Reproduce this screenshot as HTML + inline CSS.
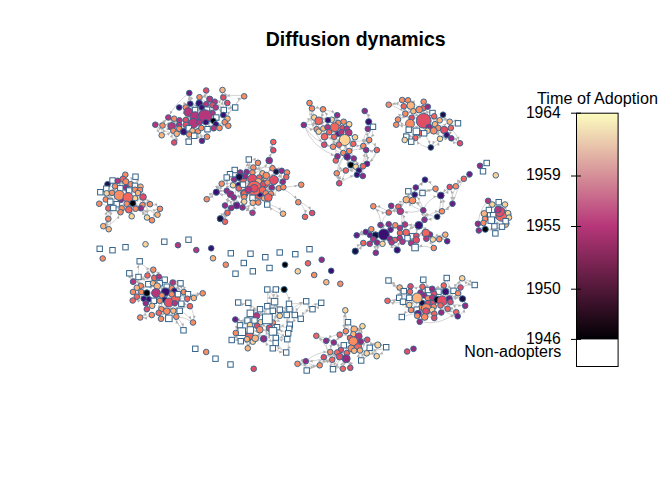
<!DOCTYPE html>
<html><head><meta charset="utf-8"><title>Diffusion dynamics</title>
<style>
html,body{margin:0;padding:0;background:#fff;}
body{width:672px;height:480px;overflow:hidden;}
svg{display:block;}
text{font-family:"Liberation Sans",sans-serif;fill:#000;}
.e{fill:none;stroke:#c2c2c2;stroke-width:0.7;}
.ah{fill:#aeaeae;stroke:none;}
.c{stroke:#36648b;stroke-width:0.95;}
.s{fill:#fff;stroke:#36648b;stroke-width:1;}
</style></head><body>
<svg width="672" height="480" viewBox="0 0 672 480">
<defs>
<linearGradient id="g" x1="0" y1="1" x2="0" y2="0">
<stop offset="0" stop-color="#000004"/><stop offset="0.5" stop-color="#b63679"/><stop offset="1" stop-color="#fcfdbf"/>
</linearGradient>
</defs>
<rect x="0" y="0" width="672" height="480" fill="#fff"/>
<text x="355.7" y="45.8" text-anchor="middle" font-size="19.5" font-weight="bold">Diffusion dynamics</text>

<g id="edges">
<path class="e" d="M190.3 103.7Q191.5 98.2 189.3 93M189.3 93Q189 100.6 185.8 107.5M195 116.7Q189.3 105.5 189.3 93M206.2 90.5Q205.8 95.7 209.7 99.2M223.3 97.5Q221.7 93.9 222.5 90M227.3 103Q226.8 95.8 222.5 90M235.2 107.5Q237 99.8 244.2 96.3M244.2 96.3Q233.6 93.8 223.3 97.5M244.2 96.3Q230.5 106.3 224.7 122.2M199.2 103.3Q197.8 100.2 199.5 97.2M199.5 97.2Q204.9 96.7 209.7 99.2M209.7 99.2Q208.5 102.1 206.2 104.2M213.7 128.3Q218.3 112.8 209.7 99.2M214.7 101.7Q219.9 101.5 223.3 97.5M223.8 110Q221.9 103.8 223.3 97.5M223.3 97.5Q222.1 93.8 222.5 90M214.7 101.7Q212.8 102.8 212.5 105M214.7 101.7Q213.9 103.5 212.5 105M223.8 110Q226.4 106.9 227.3 103M227.3 103Q209 110.2 190.3 103.7M235.2 107.5Q230.4 106.7 227.3 103M235.2 107.5Q228.6 111.2 227.5 118.7M199.5 97.2Q214.9 110.6 235.2 107.5M190.3 103.7Q193.3 106.4 195 110M199.2 103.3Q199.8 105.8 201.7 107.5M207 109.7Q205.7 107.1 206.2 104.2M206.2 104.2Q202.7 103.2 199.2 103.3M206.2 104.2Q209.2 105.4 212.5 105M212.5 113Q211.2 109 212.5 105M185.8 107.5Q182.5 106.4 179.2 107.5M179.2 107.5Q184 103.5 190.3 103.7M188.3 112Q186.4 110.1 185.8 107.5M185.8 120Q183.8 113.8 185.8 107.5M195 110Q196.6 113.3 195 116.7M202.5 113.3Q199.2 110.7 195 110M195 110Q198.3 107.4 199.2 103.3M202.5 113.3Q203.3 110.2 201.7 107.5M201.7 107.5Q204.6 107.9 207 109.7M212.5 105Q213.8 106.7 215.8 107.5M215.8 107.5Q216.2 104.4 214.7 101.7M223.3 115Q224.2 112.6 223.8 110M223.8 110Q219.4 110 215.8 107.5M188.3 112Q191.3 109.7 195 110M193.3 123.3Q188.5 118.7 188.3 112M195 116.7Q198.3 114.1 202.5 113.3M202.5 113.3Q205.6 112.5 207 109.7M212.5 113Q209.4 111.9 207 109.7M216.3 117.5Q220.1 117 223.3 115M223.3 115Q223 118.8 224.7 122.2M195 116.7Q194.2 113.3 195 110M199.5 122.5Q200.8 118.2 205 116.7M216.3 117.5Q214.4 118.8 213.3 120.8M216.3 117.5Q215.3 119.6 213.3 120.8M227.5 118.7Q225.5 120 224.7 122.2M223.3 115Q225.8 116.4 227.5 118.7M227.5 118.7Q225.8 116.4 223.3 115M219.5 128Q225.3 124.9 227.5 118.7M174.2 118.7Q171.3 117.6 168.3 117.5M189.3 93Q175.7 102.6 168.3 117.5M179.5 120.3Q177.1 118.8 174.2 118.7M179.2 128.8Q174.4 124.9 174.2 118.7M179.5 120.3Q182.7 120.7 185.8 120M185.8 120Q190.3 120 193.3 123.3M185.8 120Q186.1 115.7 188.3 112M193.3 123.3Q196.3 122.1 199.5 122.5M195 116.7Q195.7 120.4 193.3 123.3M193.3 123.3Q192.1 126.7 188.8 128.3M199.5 122.5Q199.2 125.7 201.3 128M205 116.7Q206 119.3 205.8 122.2M205.8 122.2Q209.9 123.3 213.3 120.8M213.3 120.8Q215.1 124.5 213.7 128.3M213.3 120.8Q214.9 122.3 215.8 124.2M207.5 129.2Q211.2 125.8 215.8 124.2M215.8 124.2Q213.8 125.7 213.7 128.3M223.3 115Q224.7 118.4 224.7 122.2M224.7 122.2Q226.6 120.8 227.5 118.7M202 140.8Q210.2 127.6 224.7 122.2M228.3 125.8Q225.7 124.8 224.7 122.2M228.3 125.8Q223.5 125.1 219.5 128M214.7 101.7Q228.7 109.7 228.3 125.8M155.3 124.7Q159 124.2 162.5 125.5M155.3 124.7Q157.6 130.5 161.7 135.3M155.3 124.7Q163.1 123.3 168.3 117.5M176.7 133.8Q164.4 132.9 155.3 124.7M171.7 126.3Q167.2 124.4 162.5 125.5M162.5 125.5Q167.5 129.1 173.3 130.8M188.8 128.3Q176.3 120.8 162.5 125.5M179.2 125Q175.6 126.7 171.7 126.3M174.2 118.7Q171.7 122.1 171.7 126.3M171.7 126.3Q174.5 123 174.2 118.7M205 116.7Q186.1 113.7 171.7 126.3M179.5 120.3Q180.2 122.7 179.2 125M183.7 131.7Q179.8 129.4 179.2 125M179.2 125Q180.1 122.7 179.5 120.3M189.2 134.5Q186.1 127.7 179.2 125M179.2 128.8Q179.8 126.9 179.2 125M185.8 124.7Q182.9 127.4 179.2 128.8M179.2 128.8Q179.8 126.9 179.2 125M185.8 120Q186.4 122.3 185.8 124.7M185.8 124.7Q186.8 122.3 185.8 120M173.3 130.8Q174.5 132.8 176.7 133.8M173.3 130.8Q176 129 179.2 128.8M183.7 131.7Q185.9 129.5 188.8 128.3M183.7 131.7Q186.3 128.6 185.8 124.7M188.8 128.3Q192.2 126.8 193.3 123.3M185.8 120Q185.4 124.9 188.8 128.3M188.8 128.3Q191.1 129 192.5 130.8M192.5 130.8Q195.1 132.4 198 131.3M201.3 128Q199 129 198 131.3M199.5 122.5Q200.8 127.3 198 131.3M198 131.3Q195.1 132.2 192.5 130.8M201.3 128Q199.3 125.6 199.5 122.5M201.3 128Q198 124.6 193.3 123.3M201.3 128Q204.6 127.6 207.5 129.2M207.5 129.2Q205.6 125.9 205.8 122.2M213.7 128.3Q210.8 130.1 207.5 129.2M219.5 128Q217 126.7 215.8 124.2M206.2 104.2Q209.1 118.2 219.5 128M161.7 135.3Q163.9 130.6 162.5 125.5M161.7 135.3Q168 134.4 173.3 130.8M161.7 135.3Q160.1 124.6 168.3 117.5M179.2 128.8Q178.9 131.8 176.7 133.8M176.7 133.8Q178.4 131.6 179.2 128.8M189.2 134.5Q190.1 132 192.5 130.8M189.2 134.5Q190.2 132.1 192.5 130.8M192.5 130.8Q194.4 133 194.2 135.8M207.5 129.2Q205.9 132.8 207 136.7M207 136.7Q201.2 136.2 198 131.3M174.2 142.5Q176.1 138.4 176.7 133.8M174.2 142.5Q171.3 136.8 173.3 130.8M174.2 142.5Q176.9 138.6 176.7 133.8M174.2 142.5Q177.7 128.5 168.3 117.5M188.7 141.7Q187.2 138 189.2 134.5M188.7 141.7Q188.6 135.5 183.7 131.7M201.7 107.5Q189.7 122.5 188.7 141.7M207 136.7Q203.6 137.7 202 140.8M202 140.8Q198.2 136.8 198 131.3M312 108.5Q312.1 105.2 309.5 103M314.2 117.5Q311.4 113.4 312 108.5M312 108.5Q317.6 107.4 323 109.3M328 120.2Q326.7 114.2 323 109.3M323 109.3Q322.2 115.6 318.7 120.8M323 109.3Q319.7 119 323.3 128.5M318.7 120.8Q317.2 118.1 314.2 117.5M316.7 129.2Q313.4 123.8 314.2 117.5M314.2 117.5Q316.6 123.1 316.7 129.2M331.7 119.7Q335 118.1 337.2 115.2M338.3 123Q336.5 119.3 337.2 115.2M337.2 115.2Q336.1 119.3 338.3 123M331.7 119.7Q335.4 120.6 338.3 123M334.7 127.2Q333.9 123.1 331.7 119.7M331.7 119.7Q335.4 120.5 338.3 123M355 137.3Q339.5 133.5 331.7 119.7M318.7 120.8Q315.7 124.5 316.7 129.2M318.7 120.8Q323.5 122.4 328 120.2M318.7 120.8Q316.1 119.6 314.2 117.5M349.2 124.2Q334.7 115.3 318.7 120.8M331.7 119.7Q329.9 120.3 328 120.2M328 120.2Q326.8 124.9 323.3 128.5M334.7 127.2Q336.1 124.8 338.3 123M338.3 123Q341.3 123.4 343.7 121.7M346.7 128.8Q346.1 124.9 343.7 121.7M343.7 121.7Q346 124.9 346.7 128.8M349.2 124.2Q348.4 126.8 346.7 128.8M349.2 124.2Q349.9 128.5 348.8 132.7M303.8 125Q307.7 119.5 314.2 117.5M303.8 125Q309.4 129.7 316.7 129.2M303.8 125Q312.1 125.9 318.7 120.8M303.8 125Q314.5 115.4 328 120.2M318.7 131.7Q317.3 130.7 316.7 129.2M316.7 129.2Q317.1 130.9 318.7 131.7M316.7 129.2Q333.2 128.1 344.7 140M318.7 131.7Q320.2 129 323.3 128.5M324.5 136.7Q322.3 133.4 318.7 131.7M318.7 131.7Q318.1 130.1 316.7 129.2M323.3 128.5Q325.2 127.1 327.5 127.2M323.3 128.5Q327 129.2 329.2 132.2M327.5 127.2Q327.3 130 329.2 132.2M327.5 127.2Q331.1 125.6 334.7 127.2M342.5 128Q341.6 130 341.3 132.2M342.5 128Q341.2 131.5 338.3 133.8M346.7 128.8Q344.7 127.7 342.5 128M329.2 132.2Q330.7 128.4 334.7 127.2M334.7 127.2Q337.4 130 338.3 133.8M334.7 127.2Q330.9 128.5 329.2 132.2M334.2 136.8Q331 135.2 329.2 132.2M329.2 132.2Q335.2 133.3 341.3 132.2M329.2 132.2Q332.6 133.5 334.2 136.8M338.3 133.8Q336.7 136 334.2 136.8M324.5 136.7Q325.9 133.5 329.2 132.2M334.2 136.8Q329.4 134.5 324.5 136.7M324.5 136.7Q325.2 132.4 323.3 128.5M341.3 132.2Q340.1 133.4 338.3 133.8M334.2 136.8Q336.6 132.8 341.3 132.2M341.3 132.2Q343.7 130 346.7 128.8M341.3 132.2Q345.2 130.9 348.8 132.7M342.5 128Q344.6 131.8 348.8 132.7M348.8 132.7Q345.1 131.1 342.5 128M353.3 143.8Q352.8 140.2 355 137.3M355 137.3Q349.3 134.6 346.7 128.8M344.7 140Q341 141.4 338.8 144.7M353.3 143.8Q348.3 143.4 344.7 140M353.3 143.8Q353.8 137.2 348.8 132.7M338.8 144.7Q337.8 140 334.2 136.8M333 146.7Q335.7 144.9 338.8 144.7M333 146.7Q334.6 141.9 334.2 136.8M333 146.7Q335.4 144.2 338.8 144.7M324.2 144.7Q325.1 140.7 324.5 136.7M324.2 144.7Q325.5 140.7 324.5 136.7M343.3 153Q346 151.3 349.2 151M344.7 140Q345.3 146.2 349.2 151M349.2 151Q346 151.2 343.3 153M338.8 144.7Q340.2 149.3 343.3 153M343.3 153Q345.9 146.7 344.7 140M343.3 153Q340.7 155.2 337.5 156.3M337.5 156.3Q337.1 158.6 335.8 160.5M335.8 160.5Q337.4 142.4 327.5 127.2M343.3 153Q340 154 337.5 156.3M337.5 156.3Q339.7 153.5 343.3 153M353.8 158.5Q350.2 158.7 347.2 156.8M353.8 158.5Q347.3 158.2 343.3 153M353.8 158.5Q350.7 156.8 347.2 156.8M353.8 158.5Q344.2 140.8 324.5 136.7M343.3 153Q346.1 154.1 347.2 156.8M338.8 144.7Q340.9 152.2 347.2 156.8M353.8 158.5Q353.9 162.5 350.8 165M350.8 165Q347.5 161.6 347.2 156.8M324.2 144.7Q341.3 149.9 350.8 165M355.8 166.7Q353.5 165.2 350.8 165M355.8 166.7Q351.7 170.9 345.8 170.5M345.8 170.5Q348.9 168.2 350.8 165M335.8 160.5Q338.6 167.8 345.8 170.5M345.8 170.5Q351.5 170.2 355.8 166.7M345.8 170.5Q340.8 170.6 336.7 173.3M336.7 173.3Q339.7 177.9 339.2 183.3M336.7 173.3Q338.3 159.6 349.2 151M358.8 170.5Q356.9 169 355.8 166.7M358.8 170.5Q358.1 163.8 353.8 158.5M358.8 170.5Q348.9 158.7 353.3 143.8M358.8 170.5Q358.5 172.8 357 174.7M357 174.7Q346.7 164.9 349.2 151M339.2 183.3Q339.5 177.9 336.7 173.3M345.8 170.5Q344.1 177.8 339.2 183.3M339.2 183.3Q347.3 177.3 357 174.7M349.2 151Q334.5 164.2 339.2 183.3M368.7 121.8Q369 115.5 364.7 111M373 126.8Q370.8 117.9 364.7 111M368.7 121.8Q369.9 125.1 373 126.8M368.7 121.8Q371.7 123.6 373 126.8M367.8 128.8Q370 126.8 373 126.8M363.3 146Q366.4 135.5 373 126.8M373 126.8Q373.9 134.2 369.2 140M367.8 128.8Q367 134.6 369.2 140M367.8 128.8Q363 136.7 363.3 146M369.2 140Q367.3 144 363.3 146M369.2 140Q365 141.8 363.3 146M363.3 146Q364 148.5 366.2 150M366.2 150Q371.5 151 376.8 150M376.8 150Q371.5 151.3 366.2 150M369.2 140Q374.7 143.7 376.8 150M366.2 150Q368.1 156.8 367 163.8M376.8 150Q374 158.4 367 163.8M367 163.8Q364.4 164.1 363 166.3M363 166.3Q364.4 164.2 367 163.8M363 166.3Q367.1 158.7 366.2 150M376.8 150Q374.7 162.2 363 166.3M363 166.3Q361.3 171.1 362.8 176M362.8 176Q361.5 162.6 366.2 150M388.7 104.7Q396.2 104.6 402.2 100M403.8 106.3Q396.5 103.2 388.7 104.7M388.7 104.7Q398.3 106.8 405.3 113.7M408 100.3Q405 101.4 402.2 100M402.2 100Q404.4 102.8 403.8 106.3M408 100.3Q408.9 103.2 410.8 105.5M419.2 109.7Q416 102.1 408 100.3M427.8 106.7Q425.1 104.7 423.7 101.7M423.7 101.7Q414.6 107.5 411.7 117.8M403.8 106.3Q407.5 107.3 410.8 105.5M405.3 113.7Q403.8 110.2 403.8 106.3M427.5 130.8Q411.5 122.6 403.8 106.3M432.5 113Q427.1 112 423 108.3M423 108.3Q420.9 108.6 419.2 109.7M410.8 105.5Q413.2 107.9 413.3 111.3M405.3 113.7Q409.6 110.6 410.8 105.5M410.8 105.5Q410.2 102.5 408 100.3M423 108.3Q416.1 110.3 410.8 105.5M423 108.3Q425.6 107.9 427.8 106.7M427.8 106.7Q424.1 109.8 419.2 109.7M427.8 106.7Q425.2 107 423 108.3M405.3 113.7Q407.7 117 411.7 117.8M413.3 111.3Q416.5 111.4 419.2 109.7M413.3 111.3Q414.1 115 411.7 117.8M419.2 109.7Q416.8 115 411.7 117.8M432.5 113Q425.3 113.6 419.2 109.7M419.2 109.7Q420.9 108.6 423 108.3M432.5 113Q432.7 115 434.2 116.3M432.5 113Q432.8 114.9 434.2 116.3M439.7 120.3Q442.7 118.3 443 114.7M443 114.7Q445.1 119.3 449.7 121.7M434.2 116.3Q436.2 120.1 435 124.2M423.7 120.8Q428.5 117.5 434.2 116.3M434.2 116.3Q433.5 120.4 435 124.2M423.7 120.8Q418.1 117.4 411.7 117.8M405.3 113.7Q402.6 117.7 398 119.5M398 119.5Q400.2 114.8 405.3 113.7M424.2 133.3Q408.4 131.5 398 119.5M398 119.5Q398.1 122.4 396.2 124.7M410 123.7Q403.3 126.6 396.2 124.7M411.7 117.8Q410.1 120.5 410 123.7M416.3 131.3Q414.8 126.1 410 123.7M410 123.7Q409.2 117.9 405.3 113.7M435 124.2Q436.9 121.7 439.7 120.3M438.3 128Q437.5 123.9 439.7 120.3M443 114.7Q445.2 119.2 449.7 121.7M449.7 121.7Q444.9 119.5 439.7 120.3M429.2 127.5Q440.4 128 449.7 121.7M458 123.3Q454.2 120.9 449.7 121.7M450.8 128Q454 125 458 123.3M429.2 127.5Q432.4 126.4 435 124.2M435 124.2Q428.5 125.3 423.7 120.8M435 124.2Q435.5 127.7 433.7 130.8M438.3 128Q436 126.7 435 124.2M438.3 128Q437.2 125.6 435 124.2M429.2 127.5Q425.7 124.8 423.7 120.8M429.2 127.5Q430.7 130.1 433.7 130.8M450.8 128Q449.3 125 449.7 121.7M444.2 130Q441.6 127.9 438.3 128M444.2 130Q438.8 129 433.7 130.8M427.5 130.8Q428 129 429.2 127.5M427.5 130.8Q426.1 132.4 424.2 133.3M429.2 127.5Q431.1 129.6 433.7 130.8M435 124.2Q433.2 127.3 433.7 130.8M410 123.7Q408.7 126.5 408.7 129.7M408.7 129.7Q412.6 129.9 416.3 131.3M420 133.3Q422.1 133.9 424.2 133.3M424.2 133.3Q420.5 131.2 416.3 131.3M416.3 131.3Q421.4 127.1 423.7 120.8M427.5 130.8Q425.5 131.6 424.2 133.3M429.2 127.5Q427.9 131.5 424.2 133.3M424.2 133.3Q422.1 134 420 133.3M406.3 136.7Q405.8 132.6 408.7 129.7M406.3 136.7Q411 136.3 415.3 138M420 133.3Q416.9 134.9 415.3 138M415.3 138Q420.4 136.9 424.2 133.3M415.3 138Q416.5 134.8 416.3 131.3M404.7 140Q404.7 137.9 406.3 136.7M424.2 133.3Q413.3 133.4 404.7 140M415.3 138Q412.4 138.8 411.2 141.7M420 133.3Q417.1 139.1 411.2 141.7M440 138.8Q443.3 135 444.2 130M440 138.8Q437.4 133.7 438.3 128M419.2 109.7Q434.9 120.4 440 138.8M446.7 135Q444.9 132.8 444.2 130M446.7 135Q443.9 137.9 440 138.8M446.7 135Q437.8 129.5 427.5 130.8M451.3 138.3Q448.2 137.7 446.7 135M451.3 138.3Q449.7 132.5 444.2 130M433.7 130.8Q440.3 139.8 451.3 138.3M451.3 138.3Q456.4 139.5 460 143.3M450.8 128Q457.3 134.5 460 143.3M446.7 135Q451.2 142.6 460 143.3M440 138.8Q433.8 141.5 430.8 147.5M424.2 133.3Q428.8 139.8 430.8 147.5M123 179.2Q123.2 176.4 125.3 174.7M125.3 174.7Q126.7 178.1 125.8 181.7M125.3 174.7Q124.2 178.3 125.8 181.7M113.3 208Q114.5 189.6 125.3 174.7M135.5 176.7Q131.4 179.3 130.8 184.2M135.5 176.7Q137.4 181.4 135 185.8M117.8 180.8Q115.2 179.6 112.5 180.5M112.5 180.5Q115.2 179.6 117.8 180.8M115 186.3Q117 183.9 117.8 180.8M117.8 180.8Q121.6 183.2 125.8 181.7M117.8 180.8Q120.3 179.5 123 179.2M135 185.8Q127.3 180.4 117.8 180.8M125.8 181.7Q123.8 181.1 123 179.2M123 179.2Q126 183.1 130.8 184.2M123 179.2Q124.8 180 125.8 181.7M123 179.2Q128.8 183.3 129.2 190.5M125.8 181.7Q128.7 182.1 130.8 184.2M125.8 181.7Q122.3 184.3 120.3 188.3M106.3 188.7Q107.5 186.6 107.5 184.2M112.5 180.5Q110.6 183.2 107.5 184.2M129.2 190.5Q119.8 182.5 107.5 184.2M120.3 188.3Q117.2 188.6 115 186.3M119.2 195.3Q114.9 191.8 115 186.3M115 186.3Q114.3 190 112 192.8M130.8 184.2Q127.5 184.6 125.8 187.5M135 189.7Q135.9 187.8 135 185.8M140.5 186.7Q139.5 188.2 140 190M140.5 186.7Q138 189.3 138 193M140.5 186.7Q131.3 188.6 128 197.5M125.8 187.5Q128 188.4 129.2 190.5M119.2 195.3Q121.2 192.1 120.3 188.3M129.2 190.5Q124.5 190.5 120.3 188.3M106.7 193.3Q105.7 191.1 106.3 188.7M106.3 188.7Q110.2 185.9 115 186.3M128 197.5Q126.9 193.7 129.2 190.5M129.2 190.5Q126.3 196.4 120.8 200M129.2 190.5Q129.2 194.1 128 197.5M135 189.7Q132.2 191 129.2 190.5M135 189.7Q136.1 191.7 138 193M138 193Q138.6 191.2 140 190M140 190Q136.9 188.7 135 185.8M106.7 193.3Q103.8 191.3 100.3 192.2M105.8 199.5Q104.6 194.7 100.3 192.2M106.7 193.3Q109.4 194 112 192.8M106.7 193.3Q109.4 197.1 110.3 201.7M119.2 195.3Q116.1 192.6 112 192.8M120.8 200Q115 198.2 112 192.8M112 192.8Q116.2 192.4 119.2 195.3M135 189.7Q135.7 192 138 193M135 198.3Q137.6 196.3 138 193M138 193Q137 190.8 135 189.7M143 197Q139.9 195.7 138 193M135 198.3Q134.4 201 132.8 203.3M128 197.5Q131.4 199 135 198.3M135 198.3Q139.2 199.1 143 197M110.3 201.7Q107.6 201.6 105.8 199.5M105.8 199.5Q110.7 202.7 113.3 208M105.8 199.5Q110.4 197.6 112 192.8M128.8 209.7Q114.5 211 105.8 199.5M128 197.5Q124.9 200.2 120.8 200M119.2 195.3Q119.3 197.9 120.8 200M119.2 195.3Q119.2 198 120.8 200M128 197.5Q129.2 201.4 132.8 203.3M116.7 204.2Q113.8 202.2 110.3 201.7M110.3 201.7Q112 197.4 112 192.8M99.2 203.7Q102.9 202.2 105.8 199.5M99.2 203.7Q116.1 209.3 132.8 203.3M120.8 200Q119.2 202.5 116.7 204.2M116.7 204.2Q121.7 205.8 126.7 203.8M128 197.5Q127.9 200.8 126.7 203.8M126.7 203.8Q126.5 207.2 128.8 209.7M135.5 208.7Q139.4 207.6 142.5 205M142.5 205Q144.3 201.1 143 197M142.5 205Q139.4 207.6 135.5 208.7M135 185.8Q143.5 193.6 142.5 205M150 204.2Q146.1 203.2 142.5 205M150 204.2Q147.3 199.8 143 197M126.7 203.8Q129.9 205 132.8 203.3M132.8 203.3Q129.5 201.2 128 197.5M113.3 208Q110.8 207 108.3 208.3M116.7 204.2Q111.7 204.6 108.3 208.3M108.3 208.3Q110.8 207.7 113.3 208M108.3 208.3Q116.7 199.8 120.3 188.3M116.7 204.2Q115.3 206.4 113.3 208M120.5 212.2Q116.5 210.9 113.3 208M113.3 208Q115.7 206.7 116.7 204.2M121.7 208.3Q125.1 207.1 126.7 203.8M121.7 208.3Q128.1 207.7 132.8 203.3M121.7 208.3Q119.5 205.8 116.7 204.2M135.5 208.7Q138.1 207.5 140.8 208.3M143 197Q143.5 203 140.8 208.3M135.5 208.7Q135.2 205.5 132.8 203.3M135.5 208.7Q138.2 205.2 142.5 205M128.8 209.7Q127.2 207 126.7 203.8M128.8 209.7Q131.4 206.8 132.8 203.3M128.8 209.7Q131.4 212.5 131.7 216.3M150 204.2Q156 204.3 160 208.8M126.7 203.8Q142.2 214 160 208.8M121.7 208.3Q122 210.5 120.5 212.2M120.5 212.2Q124.4 209.9 128.8 209.7M131.7 216.3Q129.7 213.3 128.8 209.7M131.7 216.3Q132 211.7 135.5 208.7M157.5 214.7Q153.4 216.2 152 220.3M157.5 214.7Q157.4 211.2 160 208.8M157.5 214.7Q137.7 206.9 135 185.8M147 217.5Q146.1 211.4 140.8 208.3M142.5 205Q142.5 212.1 147 217.5M147 217.5Q143 213.5 140.8 208.3M140.5 186.7Q148.7 201 147 217.5M147 217.5Q150.1 217.9 152 220.3M152 220.3Q149.1 219.6 147 217.5M108.3 218.8Q105.9 213.6 108.3 208.3M108.3 218.8Q108.4 212.3 113.3 208M108.3 218.8Q106.7 223.1 103.3 226.2M113.3 208Q110 218 103.3 226.2M103.3 226.2Q115.8 224 120.5 212.2M108.3 218.8Q106 224.1 108.7 229.2M108.7 229.2Q113.4 218.7 108.3 208.3M108.7 229.2Q106.4 227 103.3 226.2M108.7 229.2Q102.4 215 110.3 201.7M243 184.7Q243.6 181.4 242.7 178.2M242.7 178.2Q242.6 174.9 240.3 172.5M244.3 193.3Q245.9 191 248.3 189.7M244.3 193.3Q244.7 188.8 243 184.7M254.2 188.3Q257.3 190.8 259.3 194.3M259.3 179.8Q258.4 180.5 258.3 181.7M259.3 179.8Q259.5 178.6 259.2 177.5M263.3 184.2Q264 184.4 264.7 184M264.7 184Q261.2 183.7 258.3 181.7M273.3 150.3Q271.4 146.2 273.3 142M269.2 160.5Q270.3 155 273.3 150.3M273.3 150.3Q271.8 146.2 273.3 142M272.5 168.3Q271.6 164.1 269.2 160.5M245 176.3Q260.5 173.7 269.2 160.5M253.3 167.5Q249.1 164.6 248.8 159.5M248.8 159.5Q247.8 166.8 252.5 172.5M233 185.3Q244.6 174.7 248.8 159.5M258 162.8Q256.5 166 253.3 167.5M262.5 173.3Q258.9 168.7 258 162.8M258 162.8Q254.1 159.2 248.8 159.5M258 162.8Q263.9 172.7 263.3 184.2M253.3 167.5Q251.9 169.8 252.5 172.5M253.3 167.5Q258.8 169 262.5 173.3M253.3 167.5Q253.5 170.1 252.5 172.5M234.7 170Q236.9 172.5 240.3 172.5M239.2 177Q236.1 174 234.7 170M254.2 188.3Q249.8 173.4 234.7 170M230 174.2Q233.1 173 234.7 170M263.3 184.2Q244.4 186.8 230 174.2M230 174.2Q227.8 175.3 226.7 177.5M234.2 179.5Q230.2 179.3 226.7 177.5M236.7 205.5Q227.6 193 226.7 177.5M240.3 172.5Q239.3 174.6 239.2 177M242.7 178.2Q242 175.1 240.3 172.5M245 176.3Q246.7 174.5 246.7 172M252.5 179.2Q253.6 175.8 252.5 172.5M245 176.3Q248 173 252.5 172.5M252.5 172.5Q249.5 173.3 246.7 172M272.5 168.3Q268.8 171.4 266.3 175.5M272.5 168.3Q261.3 164.5 252.5 172.5M272.5 168.3Q273.7 170.6 276.2 171.7M281.7 170.8Q279.1 172.5 276.2 171.7M282.8 181.7Q280.8 176.4 281.7 170.8M281.7 170.8Q277.4 168.6 272.5 168.3M264.7 184Q276.8 182.1 281.7 170.8M287 172.5Q287.1 174.8 286.3 177M282.8 181.7Q286 177.6 287 172.5M262.5 173.3Q261.4 175.9 259.2 177.5M262.5 173.3Q264.8 173.7 266.3 175.5M266.3 175.5Q265.5 179.2 267.5 182.5M282.8 181.7Q283.8 178.8 286.3 177M286.3 177Q284.9 173.2 281.7 170.8M286.3 177Q269.2 186.4 258.3 202.5M239.2 177Q236.4 177.8 234.2 179.5M252.5 179.2Q249.2 176.7 245 176.3M245 176.3Q249.3 182.4 248.3 189.7M245 176.3Q244.2 177.7 242.7 178.2M242.7 178.2Q240.6 178.4 239.2 177M238.7 185Q239.7 181 239.2 177M259.2 177.5Q259.1 178.7 259.3 179.8M259.2 177.5Q255.4 176.7 252.5 179.2M259.2 177.5Q256.1 179.5 252.5 179.2M252.5 179.2Q254.1 183.6 254.2 188.3M248.3 189.7Q252.9 185.4 252.5 179.2M252.5 179.2Q255.6 177.5 259.2 177.5M258.3 181.7Q257 185.5 254.2 188.3M258.3 181.7Q254.8 187.5 248.3 189.7M273.8 180Q271.2 182.5 267.5 182.5M273.8 180Q270.9 176.3 266.3 175.5M273.8 180Q270.9 181.9 267.5 182.5M273.8 180Q258.6 194.2 238.7 188.3M282.8 181.7Q279.7 184.3 278.8 188.3M273.8 180Q278.6 179.3 282.8 181.7M282.8 181.7Q276.2 174.2 266.3 175.5M226.7 177.5Q225.4 181.6 221.7 183.7M221.7 183.7Q220.2 188.7 216.3 192.2M221.7 183.7Q232.3 185.3 239.2 177M233 185.3Q235.9 186.5 238.7 185M243 184.7Q238.1 187 233 185.3M233 185.3Q235.2 188 238.7 188.3M243 184.7Q240.8 184.2 238.7 185M238.7 185Q241.5 182.1 242.7 178.2M238.7 185Q235.8 183.9 233 185.3M248.3 189.7Q246.8 186 243 184.7M258.3 181.7Q260.5 183.6 263.3 184.2M263.3 184.2Q261.7 181.6 259.3 179.8M263.3 184.2Q264 183.8 264.7 184M264.7 184Q266.4 183.8 267.5 182.5M267.5 182.5Q263.7 180.4 259.3 179.8M267.5 182.5Q266.3 183.6 264.7 184M243 184.7Q240.3 185.8 238.7 188.3M238.7 188.3Q240.2 192.1 244.2 193.3M238.7 188.3Q239 186.7 238.7 185M244.2 193.3Q245.8 191 248.3 189.7M260 194.2Q256.6 191.8 254.2 188.3M254.2 188.3Q256.2 191.8 259.3 194.3M254.2 188.3Q251.6 190.4 248.3 189.7M254.2 188.3Q258.7 187.5 262.5 190M254.2 188.3Q258 191.1 262.5 190M267.5 182.5Q270.6 184.1 271.7 187.5M271.7 187.5Q267.3 187.5 264.7 184M278.8 188.3Q275.3 187.3 271.7 187.5M278.8 188.3Q273.8 189.5 270.8 193.7M278.8 188.3Q275.2 194.7 268.3 197.5M278.8 188.3Q280.8 186.7 283.3 187.2M283.3 187.2Q277.5 188.4 271.7 187.5M283.3 187.2Q281.4 188.8 278.8 188.3M283.3 187.2Q273.2 190.2 264.7 184M216.3 192.2Q216.9 186.6 221.7 183.7M230.5 194.2Q223.1 195.5 216.3 192.2M216.3 192.2Q218.2 187.4 221.7 183.7M230.5 194.2Q229.4 191.6 226.7 190.8M226.7 190.8Q228.5 186.5 233 185.3M226.7 190.8Q231.2 193.2 233.8 197.5M230.5 194.2Q231.8 196.2 233.8 197.5M230.5 194.2Q228 193.2 226.7 190.8M206.7 199.2Q210.2 193.9 216.3 192.2M221.7 183.7Q217.1 194.2 206.7 199.2M206.7 199.2Q214.8 190.6 226.7 190.8M233.8 197.5Q239 195.9 244.2 197.2M233.8 197.5Q239.6 197 244.2 193.3M233.8 197.5Q231.7 192.7 226.7 190.8M244.2 193.3Q245 195.2 244.2 197.2M244.2 197.2Q243.5 195.2 244.2 193.3M252.5 197.8Q256.5 197.2 259.3 194.3M244.3 193.3Q249.3 193.9 252.5 197.8M262.5 190Q263.4 192.4 265.8 193.3M265.8 193.3Q266 196.2 264.2 198.3M270.8 193.7Q268.3 194 265.8 193.3M262.5 190Q267.5 190 270.8 193.7M264.2 198.3Q263.9 195.5 265.8 193.3M268.3 197.5Q266.3 198.3 264.2 198.3M268.3 197.5Q266.3 195.9 265.8 193.3M268.3 197.5Q266.4 198.6 264.2 198.3M244.2 197.2Q244.9 199.4 244.2 201.7M244.3 193.3Q243.4 197.5 244.2 201.7M244.2 201.7Q243.2 197.5 244.2 193.3M252.5 197.8Q251.6 200.4 252.8 202.8M252.8 202.8Q257.8 199.9 259.3 194.3M252.8 202.8Q255.6 203.3 258.3 202.5M252.5 197.8Q256 199.4 258.3 202.5M258.3 202.5Q255.6 203.3 252.8 202.8M264.2 198.3Q267.1 200.7 267.2 204.5M268.3 197.5Q269.3 201.3 267.2 204.5M225 205.5Q228.5 205.6 231.2 208M233.8 197.5Q228.4 200.4 225 205.5M231.2 208Q233.4 205.7 236.7 205.5M233.8 197.5Q230.7 202.3 231.2 208M234.2 179.5Q238.5 194.4 231.2 208M236.7 205.5Q239.8 205.8 242.5 207.5M236.7 205.5Q234.2 201.9 233.8 197.5M236.7 205.5Q236.9 200.9 233.8 197.5M244.2 201.7Q244.8 205 242.5 207.5M242.5 207.5Q248.4 206.8 252.8 202.8M242.5 207.5Q241.1 202 244.2 197.2M242.5 207.5Q258.5 204.4 270.8 193.7M227.5 212.8Q230 210.9 231.2 208M227.5 212.8Q227.9 208.6 225 205.5M227.5 212.8Q223.3 214.9 220.3 218.7M252.5 212.8Q254.4 207.9 252.8 202.8M252.5 212.8Q248.2 208.8 242.5 207.5M244.2 201.7Q245.5 209.4 252.5 212.8M283 213.7Q273.5 211.8 267.2 204.5M220.3 218.7Q222.4 220.6 225 221.7M227.5 212.8Q224.8 216.8 220.3 218.7M220.3 218.7Q222.5 214.1 227.5 212.8M227.5 212.8Q225 216.9 225 221.7M225 221.7Q226.9 213.6 225 205.5M225 221.7Q222.8 206.9 230.5 194.2M414.7 194.7Q414.4 190.9 415.8 187.5M414.7 194.7Q410.9 194.1 408.3 191.3M408.3 191.3Q409.2 196.5 412.5 200.5M422.5 193Q418.8 195.1 414.7 194.7M422.5 193Q415.3 193.3 408.3 191.3M412.5 200.5Q412.9 197.3 414.7 194.7M423.3 210.3Q421.4 201.2 414.7 194.7M435.5 188.7Q437.3 192.7 440.8 195.5M415.8 187.5Q425.4 191.9 435.5 188.7M440.8 195.5Q447.2 193.2 449.7 187M452.5 203.7Q453.3 195 449.7 187M455.8 186.3Q452.7 186.2 449.7 187M455.8 186.3Q451.2 194.4 452.5 203.7M442 211.3Q444.7 203.2 440.8 195.5M437.2 216.7Q441.3 206.5 440.8 195.5M398.3 206.7Q400.9 201.5 406.3 199.7M423.3 210.3Q412.6 208.6 406.3 199.7M423.3 210.3Q418.8 204.4 412.5 200.5M398.3 206.7Q404.1 200.5 412.5 200.5M452.5 203.7Q448.2 208.7 442 211.3M388.7 212.5Q382.2 206.5 373.3 206.3M380.5 225Q381.2 214 373.3 206.3M391.2 205.8Q391.1 209.6 388.7 212.5M400.3 211.3Q394.8 210.2 391.2 205.8M400.3 211.3Q398.8 209.2 398.3 206.7M405 224.5Q404.4 217.3 400.3 211.3M400.3 211.3Q403.7 219.7 400 228M388.7 212.5Q394.4 211.1 398.3 206.7M400.3 211.3Q394.3 210.2 388.7 212.5M423.3 210.3Q422.7 215.1 424.5 219.7M442 211.3Q440.1 214.4 437.2 216.7M437.2 216.7Q431.1 219.3 424.5 219.7M437.2 216.7Q428.9 216.4 423.3 210.3M424.5 219.7Q422.6 223.4 418.8 225.3M380.5 225Q384.7 225.9 388.7 224.2M380.5 225Q383.8 229.2 383.8 234.5M390.5 229.7Q390.7 226.6 388.7 224.2M400 228Q393.5 228.7 388.7 224.2M400 228Q398 226.1 395.3 225.3M406.2 232.5Q401.5 227.8 395.3 225.3M405 224.5Q411.7 227.8 418.8 225.3M418.8 225.3Q411.6 227.3 406.2 232.5M375.5 235.3Q372.7 232.7 371.3 229.2M383.8 234.5Q377 233.2 371.3 229.2M370 235Q368.3 233 365.8 232M371.3 229.2Q368.2 229.9 365.8 232M395.3 225.3Q393.8 228.5 390.5 229.7M400 228Q402.9 226.8 405 224.5M365.8 232Q360.8 232.3 356.7 235.3M370 235Q363.3 234.1 356.7 235.3M373.3 239.2Q372.2 236.7 370 235M383.8 234.5Q379.5 233.5 375.5 235.3M390 238.7Q386 237.9 383.8 234.5M400 233Q399.1 230.5 400 228M405 224.5Q404.6 228.7 406.2 232.5M425.8 233Q428.2 232.9 430 234.5M425.8 233Q420.8 233.4 416.3 235.8M416.2 240Q419.6 234.6 425.8 233M439.2 239.2Q441.4 235.7 445.3 234.7M445.3 234.7Q437.9 234.1 432.8 239.5M412.2 236.3Q409.9 233.3 406.2 232.5M412.2 236.3Q406.6 232.8 400 233M412.2 236.3Q409.5 236.5 407.5 238.3M412.2 236.3Q414.1 235.2 416.3 235.8M418.8 225.3Q416.7 230.4 416.3 235.8M395 240Q392.7 238.5 390 238.7M395 240Q397 238.2 399.7 238M400 233Q399.1 235.4 399.7 238M375.5 235.3Q375.1 237.6 373.3 239.2M373.3 239.2Q376 239.9 377 242.5M425.8 233Q425.3 235.9 426.3 238.7M432.8 239.5Q430.8 237.4 430 234.5M432.8 239.5Q429.7 238.5 426.3 238.7M439.2 239.2Q436 238.5 432.8 239.5M430 234.5Q433.8 238.4 439.2 239.2M447.2 241.2Q445.2 238.2 445.3 234.7M439.2 239.2Q443.5 238.9 447.2 241.2M416.3 235.8Q417.1 237.9 416.2 240M416.2 240Q411.4 241.2 407.5 238.3M399.7 238Q400.2 240.5 402.5 241.7M402.5 241.7Q404.7 239.5 407.5 238.3M416.2 240Q414.3 242.6 411.2 243.3M411.2 243.3Q410.4 239.6 412.2 236.3M369.7 243.8Q366.4 244.2 363.3 243M369.7 243.8Q372.5 242.3 373.3 239.2M369.7 243.8Q373.1 241.7 377 242.5M382.5 243.8Q379.6 243.7 377 242.5M382.5 243.8Q385.3 239.9 390 238.7M395 240Q392.7 240.4 391.7 242.5M399.7 238Q394.9 238.8 391.7 242.5M391.7 242.5Q392.7 247.5 397.2 250M402.5 241.7Q398.3 244.8 397.2 250M415 247.5Q412.6 245.8 411.2 243.3M432.8 239.5Q431.2 244 433.8 248M355.3 251.2Q357.6 245.4 363.3 243M355.3 251.2Q361.5 245.6 369.7 243.8M377 242.5Q374.8 247.5 375.8 252.8M382.5 243.8Q377.6 247.2 375.8 252.8M415.8 187.5Q421.4 184.7 425 179.7M435.5 188.7Q431.4 182.9 425 179.7M463.8 178.8Q458.2 180.9 455.8 186.3M463.8 178.8Q456.2 190.3 452.5 203.7M469.5 174.2Q467.6 177.6 463.8 178.8M486.7 163Q482.9 163.5 480 165.8M480 165.8Q482.2 168.2 483 171.3M492.3 204.5Q490.7 202.1 488.1 200.8M498.8 202.2Q493.2 203.2 488.1 200.8M488.1 200.8Q490.4 210.5 485 218.9M492.3 204.5Q491.6 207.8 489 210M499.6 211.6Q497.4 206.5 492.3 204.5M492.3 204.5Q491 212.9 485 218.9M498.8 202.2Q502.2 202.5 505 204.5M499.6 211.6Q503.8 209.2 505 204.5M505 204.5Q505.8 209.1 508.1 213.1M489 210Q495.7 203.6 505 204.5M498.8 202.2Q495.9 204.4 492.3 204.5M498 209.5Q500.2 206 498.8 202.2M498.8 202.2Q501 206.7 499.6 211.6M501.7 215.2Q497.4 217.3 493.1 215.2M501.7 215.2Q495.9 213.1 490.2 215.4M501.7 215.2Q504.5 213 508.1 213.1M493.1 215.2Q495.7 212.3 499.6 211.6M499.6 211.6Q497.2 217.6 491.2 220.1M498 209.5Q498.4 210.8 499.6 211.6M501.7 215.2Q500.4 212 498 209.5M490.2 215.4Q488.3 213 489 210M493.1 215.2Q491.8 212 489 210M489 210Q490.5 212.5 490.2 215.4M485 218.9Q485.3 216.1 484.2 213.6M484.2 213.6Q487.5 213 489 210M501.7 215.2Q505.3 215.5 508.1 213.1M505.6 221.2Q505.1 216.6 508.1 213.1M508.1 213.1Q507.9 217.5 505.6 221.2M508.1 213.1Q498.2 213 491.2 220.1M505.6 221.2Q507 219.1 509 217.6M509 217.6Q506.8 220.8 505.8 224.6M509 217.6Q505.8 215 501.7 215.2M509 217.6Q494.6 212.7 483.4 223M490.2 215.4Q486.9 216 485 218.9M485 218.9Q484 216.3 484.2 213.6M483.4 223Q483.5 220.7 485 218.9M483.4 223Q480.7 223.9 477.9 223.8M505.6 221.2Q506.3 222.9 505.8 224.6M505.8 224.6Q509 221.8 509 217.6M490.2 215.4Q491.6 214.7 493.1 215.2M490.2 215.4Q490.3 212.5 489 210M493.1 215.2Q491.5 217.4 491.2 220.1M491.2 220.1Q491.4 224 494.4 226.5M501.7 215.2Q505.1 217.3 505.6 221.2M499.6 211.6Q501.6 217 505.6 221.2M477.9 223.8Q480.5 222.2 483.4 223M477.9 223.8Q494.6 223.1 508.1 213.1M494.4 226.5Q492.3 223.5 491.2 220.1M494.4 226.5Q495 220.7 493.1 215.2M502 226.7Q498.1 228.4 494.4 226.5M491.2 220.1Q497.2 222.5 502 226.7M485.3 229.3Q485.8 225.7 483.4 223M485 218.9Q484.2 224.1 485.3 229.3M485.3 229.3Q481.9 229.2 478.8 230.5M477.9 223.8Q477.2 227.3 478.8 230.5M478.8 230.5Q484.3 226 485 218.9M488.1 200.8Q476 213.3 478.8 230.5M494.4 226.5Q495.9 229.8 495.4 233.4M485.3 229.3Q491.3 229.1 495.4 233.4M138.5 277Q137.5 269 139.7 261.3M139.7 261.3Q144.7 268.5 153.3 269.7M147.5 275.5Q149 271.2 153.3 269.7M158.8 276.7Q157.4 272.2 153.3 269.7M153.3 269.7Q152.7 274 154.3 278M165.5 292Q154.1 283.7 153.3 269.7M129.3 273.3Q130.1 278 133 281.7M129.3 273.3Q132.4 277 133 281.7M154.3 278Q151.4 275.4 147.5 275.5M138.5 277Q143.3 278.2 147.5 275.5M138.5 277Q137.6 282 140.8 285.8M138.5 277Q143.3 278.2 147.5 275.5M164.7 279.7Q151.2 282.5 138.5 277M154.3 278Q152.6 280.4 153 283.3M154.3 278Q152 281.7 148.3 284.2M154.3 278Q155.9 281.8 159.7 283.3M164.7 279.7Q161.1 279.5 158.8 276.7M153 283.3Q157.2 281.2 158.8 276.7M164.7 279.7Q163 282.6 159.7 283.3M133 281.7Q134.8 278.2 138.5 277M133 281.7Q135.8 284.2 136.8 287.8M133 281.7Q135 278.4 138.5 277M164.7 299.7Q151.9 285.3 133 281.7M172.7 282.5Q173 285.6 171.7 288.3M172.7 282.5Q176.7 281.5 180.5 283.3M180.5 283.3Q176.7 281.4 172.7 282.5M180.5 283.3Q177.3 288 171.7 288.3M180.5 283.3Q175.2 284.2 171.7 288.3M148.3 284.2Q150.8 284.6 153 283.3M148.3 284.2Q152.4 286.8 157.2 286.2M148.3 284.2Q150.7 284.2 153 283.3M159.7 283.3Q157.9 284.3 157.2 286.2M159.7 283.3Q161.8 281 164.7 279.7M157.2 286.2Q155.6 284 153 283.3M156 293Q157.4 289.7 157.2 286.2M165.5 292Q161.8 288.4 157.2 286.2M140.8 285.8Q142.1 288.8 141.3 292M140.8 285.8Q145 286.8 148.3 284.2M140.8 285.8Q138.6 286.4 136.8 287.8M136.8 287.8Q140 289 141.3 292M136.8 287.8Q138.5 286.2 140.8 285.8M136.8 287.8Q137.6 295 143.8 298.7M165.5 292Q165.6 289.2 166.7 286.7M156 293Q162.7 292.1 166.7 286.7M166.7 286.7Q168.8 288.7 171.7 288.3M136.8 287.8Q135.3 290.2 133 292M141.3 292Q137.2 293.8 133 292M146.8 293Q144.3 291.3 141.3 292M141.3 292Q143.6 297.1 148.8 299.2M175.5 299.2Q172.5 297.5 171.7 294.2M175.5 299.2Q175.6 301.3 174.7 303.3M171.7 288.3Q169.3 287 166.7 286.7M171.7 288.3Q169.2 291.2 165.5 292M161.8 295.5Q158.7 294.8 156 293M146.8 293Q146.7 296.5 148.8 299.2M161.8 295.5Q162.9 292.9 165.5 292M165.5 292Q163.8 297.2 159.7 300.8M171.7 288.3Q173.4 289.1 174.3 290.8M166.7 286.7Q170.9 288 174.3 290.8M174.3 290.8Q173.5 292.9 171.7 294.2M165.5 292Q168.9 292.2 171.7 294.2M174.3 290.8Q175.7 293 178 294.2M175.5 299.2Q177.7 297.2 178 294.2M178 294.2Q174.8 293.2 171.7 294.2M183.8 292Q181.3 294.2 178 294.2M174.3 290.8Q179.4 289.1 183.8 292M183.8 292Q183.9 287 180.5 283.3M172.7 282.5Q180.2 285 183.8 292M187.2 298.7Q188.3 296.5 188 294.2M183.8 292Q186.4 292.2 188 294.2M202.7 293.3Q197.5 294.2 193.8 298M188 294.2Q195.5 296.3 202.7 293.3M202.7 293.3Q186.9 293.3 174.7 303.3M136.8 296.7Q140.2 295.4 141.3 292M136.8 296.7Q142.5 296.8 146.8 293M136.8 296.7Q154.7 302.2 171.7 294.2M148.8 299.2Q146.4 297.8 143.8 298.7M146.8 293Q145.9 296.1 143.8 298.7M153.8 300.8Q151.2 300.5 148.8 299.2M159.7 300.8Q154.5 298.1 148.8 299.2M164.7 299.7Q162.6 298 161.8 295.5M164.7 299.7Q162.9 297.8 161.8 295.5M132.7 300.5Q133.9 297.6 136.8 296.7M132.7 300.5Q138.5 301.1 143.8 298.7M132.7 300.5Q137.9 297.5 143.8 298.7M153.8 300.8Q156.8 301.6 159.7 300.8M161.8 295.5Q157.4 297.5 153.8 300.8M153.8 300.8Q156.8 302.3 159.7 300.8M159.7 300.8Q160.2 297.9 161.8 295.5M159.7 300.8Q156.8 301.6 153.8 300.8M183.8 292Q184.7 295.8 187.2 298.7M178 294.2Q183 295.6 187.2 298.7M187.2 298.7Q190.6 299.6 193.8 298M193.8 298Q190.3 296.7 187.2 298.7M188 294.2Q191.5 295.3 193.8 298M193.8 298Q183 297.5 174.3 290.8M164.7 299.7Q167.3 300.3 168.8 302.5M161.8 295.5Q163.8 300.6 168.8 302.5M175.5 299.2Q174.7 301.2 174.7 303.3M171.7 294.2Q172.3 299 174.7 303.3M174.7 303.3Q171.6 303.9 168.8 302.5M145.8 303.3Q146.7 300.8 148.8 299.2M174.7 303.3Q177.9 305 181.3 303.7M181.3 303.7Q178.1 302.4 174.7 303.3M181.3 303.7Q171.1 297.3 159.7 300.8M153.8 300.8Q153.7 303.6 152.2 305.8M148.8 299.2Q149.1 303.2 152.2 305.8M187.2 298.7Q187.8 302.7 190 306.2M190 306.2Q184 306.7 179.7 310.8M161.3 309.2Q174.8 299.9 190 306.2M146.8 309.2Q146.9 306.2 145.8 303.3M161.3 309.2Q159.1 305.3 159.7 300.8M164.7 299.7Q161.5 303.9 161.3 309.2M161.3 309.2Q163.8 311 166.8 311.2M173.3 310.8Q170 309.9 166.8 311.2M173.3 310.8Q170 307.2 168.8 302.5M179.7 310.8Q176.5 310.2 173.3 310.8M179.7 310.8Q181.4 307.5 181.3 303.7M179.7 310.8Q170 308.1 164.7 299.7M158.8 312.8Q160.7 311.4 161.3 309.2M158.8 312.8Q162.4 310 166.8 311.2M146.8 309.2Q145.2 314.7 140.2 317.5M151.8 315Q146.4 318.3 140.2 317.5M158.8 312.8Q155.6 314.7 151.8 315M151.8 315Q162.5 311.8 168.8 302.5M173.3 310.8Q173.8 314.3 176.3 316.7M179.7 310.8Q178.8 314.2 176.3 316.7M176.3 316.7Q177.7 309.7 174.7 303.3M161 318.8Q160.4 315.7 158.8 312.8M161.3 309.2Q163.3 314.1 161 318.8M161 318.8Q160.7 315.5 158.8 312.8M161 318.8Q169.2 300.8 159.7 283.3M166.8 311.2Q167.1 314.9 168.8 318.3M190 306.2Q195 313.7 193 322.5M179.7 310.8Q188.3 314.5 193 322.5M193 322.5Q178 312.4 161 318.8M176.3 316.7Q182.6 322.1 183.5 330.3M183.5 330.3Q176.9 325.1 176.3 316.7M183.5 330.3Q171.9 318.6 168.8 302.5M267.3 289.5Q268.3 297.1 274.5 301.7M267.3 289.5Q273.6 294 274.5 301.7M267.3 289.5Q269.3 306.9 260.7 322.2M275.8 289.5Q271.6 291.5 267.3 289.5M275.8 289.5Q277.9 295.9 274.5 301.7M275.8 289.5Q280 288.2 284.2 289.5M284.2 289.5Q289.3 295.8 289 303.8M238.2 302.5Q243.2 304.4 248.3 302.8M248.3 302.8Q251 307.8 250.3 313.3M248.3 302.8Q252.8 308.6 260 309.2M267.3 306.2Q270.2 302.7 274.5 301.7M274.5 301.7Q274.5 306.4 272.8 310.8M274.5 301.7Q276.4 306.2 279.8 309.7M289.5 309.2Q290.2 306.4 289 303.8M279.8 309.7Q285.1 307.8 289 303.8M289 303.8Q286 309 286.7 315M289 303.8Q286.2 311.2 279.8 315.8M289 303.8Q297.9 304.5 306.2 301.3M306.2 301.3Q297.8 305.9 294.8 315M286.7 315Q294.1 304.9 306.2 301.3M312.5 309.2Q315.5 304.2 321.2 302.8M321.2 302.8Q306.2 304.8 300.7 318.8M312.5 309.2Q308.4 306 306.2 301.3M300.7 318.8Q304.4 311.3 312.5 309.2M312.5 309.2Q318 307.6 321.2 302.8M272.8 310.8Q270.9 307.5 267.3 306.2M267.3 306.2Q264.8 312.5 267.3 318.8M267.3 306.2Q270.4 303.2 274.5 301.7M260 309.2Q257.5 312.1 256.5 315.8M267.3 318.8Q261.4 315.7 260 309.2M260 309.2Q262.1 315.2 267.3 318.8M267.3 318.8Q271.3 315.7 272.8 310.8M272.8 322.5Q271.6 316.7 272.8 310.8M279.8 309.7Q278.7 312.8 279.8 315.8M279.8 309.7Q276.6 311.7 272.8 310.8M286.7 315Q289.2 312.6 289.5 309.2M279.8 309.7Q284.8 311.6 289.5 309.2M289.5 309.2Q281.4 312.2 272.8 310.8M256.5 315.8Q257.3 319.8 260.7 322.2M256.5 315.8Q256.4 318.5 254.5 320.5M256.5 315.8Q252.9 315.9 250.3 313.3M250.3 313.3Q254.6 310 260 309.2M279.8 315.8Q275.5 314.6 272.8 310.8M279.8 315.8Q275 317.8 272.8 322.5M279.8 315.8Q278 320.9 272.8 322.5M279.8 315.8Q283.1 313.8 286.7 315M289.5 309.2Q293.3 311.1 294.8 315M294.8 315Q294.2 320.8 289.8 324.7M267.3 306.2Q283.2 303.9 294.8 315M294.8 315Q297.3 317.6 300.7 318.8M300.7 318.8Q296.9 318.2 294.8 315M235.3 319.5Q239.1 321.3 240 325.3M247.5 320.5Q241.3 321.1 235.3 319.5M247.5 320.5Q247.7 323.4 250 325M257 325.8Q256.6 322.8 254.5 320.5M260.7 322.2Q257.4 321.9 254.5 320.5M260.7 322.2Q264.4 321.3 267.3 318.8M272.8 322.5Q270.6 319.9 267.3 318.8M272.8 322.5Q273.8 325.9 277 327.2M267.3 318.8Q263.5 319.5 260.7 322.2M247.5 320.5Q242.8 321.4 240 325.3M240 325.3Q244.9 323 250 325M240 325.3Q236.2 328.2 235.8 333M250 325Q251.4 321.9 254.5 320.5M257 325.8Q253.6 324.2 250 325M250 325Q247.6 323.4 247.5 320.5M260.7 322.2Q259.4 324.5 257 325.8M257 325.8Q263.5 325.3 269.5 328M257 325.8Q259.3 327.1 259.8 329.7M269.5 328Q271.6 325.5 272.8 322.5M272.8 322.5Q274.1 325.6 277 327.2M289.8 324.7Q286.9 320.3 286.7 315M289.8 324.7Q290.9 329.4 288.2 333.3M289.2 328.8Q283.4 325.6 277 327.2M286.7 315Q291 321.4 289.2 328.8M289.2 328.8Q288.1 331 288.2 333.3M259.8 329.7Q259.6 325.8 260.7 322.2M269.5 328Q265 330.8 259.8 329.7M259.8 329.7Q258.7 327.5 257 325.8M250.3 330Q251.2 333.1 249.5 335.8M250 325Q250.6 330.5 249.5 335.8M241.7 331.7Q246.3 332.5 250.3 330M241.7 331.7Q251.6 326.1 256.5 315.8M250.3 330Q251.3 327.4 250 325M259.8 329.7Q255.1 331.2 250.3 330M250.3 330Q251.2 333.1 249.5 335.8M241.7 331.7Q238.9 333.2 235.8 333M235.8 333Q236.9 337.9 240.8 341.2M235.8 333Q241.1 314.2 260 309.2M269.5 328Q271.5 329.3 272.8 331.3M272.8 331.3Q271 326.9 272.8 322.5M288.2 333.3Q289.2 331.2 289.2 328.8M288.2 333.3Q281.9 331.4 277 327.2M235.8 333Q234.8 337.2 231.7 340M240.8 341.2Q236.4 339.8 231.7 340M231.7 340Q239.5 342 247 339.2M240.8 341.2Q243.4 338.6 247 339.2M249.5 335.8Q246 339.9 240.8 341.2M263.7 338.8Q252.6 343.7 240.8 341.2M249.5 335.8Q247.7 337.1 247 339.2M247 339.2Q261.9 336.7 275.7 343M252.8 341.7Q253.6 339.6 255.3 338.3M252.8 341.7Q250.2 339.3 249.5 335.8M247.5 320.5Q255.8 329.7 252.8 341.7M255.3 338.3Q259.6 336.8 263.7 338.8M250.3 330Q251.4 335 255.3 338.3M259.8 329.7Q259.7 335.1 263.7 338.8M272.8 331.3Q266.7 333.2 263.7 338.8M263.7 338.8Q269.5 336.7 272.8 331.3M275.8 338Q274.9 334.4 272.8 331.3M275.8 338Q277.4 332.7 277 327.2M275.8 338Q276.1 343.7 272.8 348.3M288.2 333.3Q288.6 336.4 287.3 339.2M287.3 339.2Q281.7 337.1 275.8 338M287.3 339.2Q281.4 340.1 275.8 338M259.8 329.7Q275.7 328.4 287.3 339.2M275.8 338Q274.7 340.5 275.7 343M247.8 348.3Q249.1 344.1 252.8 341.7M255.3 338.3Q250 342.1 247.8 348.3M247.8 348.3Q250.9 342.4 249.5 335.8M272.8 348.3Q273.2 345.1 275.7 343M272.8 348.3Q266.9 344.9 263.7 338.8M272.8 348.3Q278.9 352.2 286.2 352.5M287.3 339.2Q289.9 346.1 286.2 352.5M286.2 352.5Q279.2 349.6 275.7 343M286.2 352.5Q278 347.4 275.8 338M348 322.2Q345.2 316.6 345.3 310.3M345.3 310.3Q342 320.8 345.8 331.2M353.3 334.2Q343.4 324.3 345.3 310.3M345.8 331.2Q345 326.2 348 322.2M353.3 334.2Q353.1 327.1 348 322.2M362.5 326.2Q358.9 329.3 354.2 329.2M358.8 336.2Q361.6 331.5 362.5 326.2M362.5 326.2Q359.7 330.8 358.8 336.2M345.8 331.2Q355.4 332.8 362.5 326.2M354.2 329.2Q355 331.9 353.3 334.2M354.2 329.2Q358.7 328.8 362.5 326.2M339.7 334.7Q342.2 332 345.8 331.2M345.8 331.2Q343.4 334.1 339.7 334.7M339.7 334.7Q337.5 339.2 333.8 342.5M350 338Q350.9 335.4 353.3 334.2M339.7 334.7Q346.6 336.8 353.3 334.2M358.8 336.2Q355.8 336 353.3 334.2M360.8 341.7Q361.1 338.5 358.8 336.2M358.8 336.2Q361.1 338.4 360.8 341.7M316.3 335.8Q320.8 339.2 326.2 340.8M316.3 335.8Q325.9 337.1 333.8 342.5M332.2 359.7Q327.8 345.4 316.3 335.8M353.3 341.3Q351.3 340 350 338M350 338Q348.8 343.4 351.2 348.3M360.8 341.7Q363.6 339.4 367.2 339.7M367.2 339.7Q362.7 338.7 358.8 336.2M367.2 339.7Q371.5 344.3 377.8 345M361.2 360.5Q360.5 349 367.2 339.7M326.2 340.8Q330.2 340.7 333.8 342.5M339.7 334.7Q331.6 334.8 326.2 340.8M326.2 340.8Q325.5 351.4 332.2 359.7M333.8 342.5Q338.4 345.3 340.8 350M343.8 345.3Q338.3 345.9 333.8 342.5M333.8 342.5Q330.7 346.7 330.3 352M360.8 341.7Q358.1 343.9 358 347.5M351.2 348.3Q353.5 345.2 353.3 341.3M354.2 350.8Q352.2 346.2 353.3 341.3M377.8 345Q373.2 344.9 369.7 347.8M377.8 345Q371.5 344.3 367.2 339.7M377.8 345Q374.7 350.3 376.7 356.2M377.8 345Q382.2 345.2 386.2 347.2M386.2 347.2Q382.8 353.1 376.7 356.2M386.2 347.2Q378.1 352.2 369.7 347.8M366.7 353.3Q369.3 351.2 369.7 347.8M369.7 347.8Q365.5 351.4 360 350.5M361.2 360.5Q369.1 356.7 369.7 347.8M358 347.5Q356.6 349.7 354.2 350.8M358 347.5Q354.5 347.2 351.2 348.3M343.8 345.3Q347.2 347.6 351.2 348.3M351.2 348.3Q353.5 345.2 353.3 341.3M340.8 350Q341.9 347.4 343.8 345.3M358 347.5Q358.4 349.4 360 350.5M354.2 350.8Q357.1 351.2 360 350.5M360 350.5Q359.1 346 360.8 341.7M354.2 350.8Q352.3 350.1 351.2 348.3M346.7 353Q350.7 353 354.2 350.8M330.3 352Q333.8 351.3 337.2 352.5M339.7 356.7Q334.5 355.4 330.3 352M330.3 352Q333.6 353.7 337.2 352.5M340.8 350Q338.8 350.9 337.2 352.5M337.2 352.5Q342 351.6 346.7 353M337.2 352.5Q339.5 352 340.8 350M343.8 345.3Q346.9 348.5 346.7 353M360 350.5Q363.8 350.9 366.7 353.3M366.7 353.3Q362.4 355.8 361.2 360.5M366.7 353.3Q367 350 369.7 347.8M376.7 356.2Q372 353.7 366.7 353.3M376.7 356.2Q372.4 352.7 369.7 347.8M376.7 356.2Q368.7 341.2 353.3 334.2M330.3 352Q327.6 355.3 323.8 357.2M332.2 359.7Q327.4 360.4 323.8 357.2M323.8 357.2Q323.3 362 319.7 365.3M350.3 367.8Q334.2 369.6 323.8 357.2M339.7 356.7Q339.1 354.2 337.2 352.5M339.7 356.7Q339.5 353.2 340.8 350M346.7 353Q345.1 355.7 346.2 358.7M330.3 352Q333.2 355.4 332.2 359.7M332.2 359.7Q335.4 356.6 337.2 352.5M361.2 360.5Q358.3 355.8 360 350.5M305.8 361.2Q311.8 366.4 319.7 365.3M305.8 361.2Q316.2 351.6 330.3 352M305.8 361.2Q301.1 360.9 297.5 363.8M340.8 350Q325.1 361.2 305.8 361.2M297.5 363.8Q302 363.5 305.8 361.2M297.5 363.8Q308.4 367.8 319.7 365.3M319.7 365.3Q320.3 360.5 323.8 357.2M319.7 365.3Q325.4 361.3 332.2 359.7M305.8 361.2Q304.9 366 306.7 370.5M319.7 365.3Q312.7 366.8 306.7 370.5M333 369.2Q330.8 364.6 332.2 359.7M339.7 356.7Q334.9 362.2 333 369.2M333 369.2Q337.8 366.6 342.8 368.7M343.8 345.3Q342.5 359.1 333 369.2M342.8 368.7Q342.7 363.1 346.2 358.7M340.8 350Q345.9 358.9 342.8 368.7M350.3 367.8Q349.1 362.8 346.2 358.7M350.3 367.8Q350.2 362.4 346.2 358.7M432.2 297.5Q430.8 300.5 431.7 303.7M431.7 303.7Q431.3 306.9 432.2 310M422.2 303Q422.1 304.9 422.7 306.7M422.7 306.7Q425.9 305.6 428 303M422.7 306.7Q423.3 304.7 422.2 303M388.5 280.5Q393.3 285.3 399.7 287.5M388.5 280.5Q394.3 288.5 403.8 291.2M409.3 305Q403.7 288.7 388.5 280.5M422.5 286.7Q423.5 283.2 423.3 279.7M423.3 279.7Q426.2 285.7 432.2 288.8M423.3 279.7Q421.3 283 422.5 286.7M423.3 279.7Q433.7 291.2 433.8 306.7M446.7 278Q444.3 281.4 443.8 285.5M446.7 278Q447.7 285.7 453.5 290.8M445.5 291.7Q443.4 284.6 446.7 278M460.5 287.5Q459.2 282.5 462.2 278.3M462.2 278.3Q455.7 283.1 453.5 290.8M462.2 278.3Q452.3 288.2 450.5 302M462.2 278.3Q469.1 280.3 474.7 285M460.5 287.5Q467.2 283.9 474.7 285M474.7 285Q467 284.3 462.2 278.3M403.8 291.2Q402.6 288.4 399.7 287.5M410.5 286.3Q405.4 289.6 399.7 287.5M399.7 287.5Q399.1 301.9 411 310M410.5 286.3Q409.5 288.9 410 291.7M422.5 286.7Q416.5 288.2 410.5 286.3M420.5 292.5Q422.2 289.8 422.5 286.7M422.5 286.7Q425.3 290.7 424.3 295.5M445.5 291.7Q443.4 288.9 443.8 285.5M443.8 285.5Q442 289.3 438.5 291.7M458 293.3Q460.2 290.8 460.5 287.5M460.5 287.5Q453.6 291.7 445.5 291.7M410 291.7Q407 290.3 403.8 291.2M409.3 297.8Q407.2 294 403.8 291.2M403.8 291.2Q400.2 293.6 399.2 297.8M410 291.7Q411.2 294.9 409.3 297.8M424.3 295.5Q425.3 292.2 428 290M434.2 293.8Q431.8 290.8 428 290M428 290Q430.2 289.8 432.2 288.8M420.5 292.5Q422.7 293.7 424.3 295.5M420.5 292.5Q423.3 296.7 428 298.3M428 290Q429.9 288.6 432.2 288.8M432.2 288.8Q431 293.2 432.2 297.5M438.5 291.7Q436.8 293.6 434.2 293.8M438.5 291.7Q436.2 295.4 437.2 299.7M438.5 291.7Q435.9 289 432.2 288.8M445.5 291.7Q442 292.4 438.5 291.7M445.5 291.7Q442 292.8 438.5 291.7M445.5 291.7Q449.7 292.8 453.5 290.8M453.5 290.8Q447.3 290.6 443.8 285.5M453.5 290.8Q445.6 298.2 447.7 308.8M453.5 290.8Q456 291.6 458 293.3M450.5 302Q455.1 298.4 458 293.3M458 293.3Q454.1 296.9 449.2 298.8M458 293.3Q446.2 284.5 432.2 288.8M434.2 293.8Q432.8 295.5 432.2 297.5M434.2 293.8Q433.8 299 431.7 303.7M424.3 295.5Q425.6 297.7 428 298.3M424.3 295.5Q427.9 297.9 432.2 297.5M403 301.7Q400.6 300.3 399.2 297.8M399.2 297.8Q399.9 293.4 403.8 291.2M399.2 297.8Q405.7 299.4 409.3 305M409.3 297.8Q413.3 297.2 417.2 298M434.3 318Q417.9 312.8 409.3 297.8M387.5 300.8Q393.7 300.7 399.2 297.8M403 301.7Q395.1 304.5 387.5 300.8M387.5 300.8Q393.9 301.5 399.2 297.8M403 301.7Q405.4 304.7 409.3 305M411 310Q407.8 305 403 301.7M403 301.7Q401.7 299.1 399.2 297.8M428 298.3Q426.7 296.2 424.3 295.5M428 298.3Q429.9 297 432.2 297.5M437.2 299.7Q434.3 299.5 432.2 297.5M437.2 299.7Q433.8 300.9 431.7 303.7M437.2 299.7Q434.2 297.5 434.2 293.8M442.2 300.8Q439.8 299.5 437.2 299.7M449.2 298.8Q446.1 301.3 442.2 300.8M445.5 291.7Q448.1 294.9 449.2 298.8M449.2 298.8Q446.6 295.6 445.5 291.7M458 293.3Q461.3 295.2 462.5 298.8M462.5 298.8Q459.4 293.2 453.5 290.8M445.5 291.7Q453 297.5 462.5 298.8M450.5 302Q450.5 300.1 449.2 298.8M450.5 302Q447.4 304.7 447.7 308.8M450.5 302Q446.1 303.1 442.2 300.8M422.2 303Q425.1 302.4 428 303M422.2 303Q424.6 300 428 298.3M422.2 303Q425.1 301.7 428 303M417.2 298Q417.7 294.6 420.5 292.5M417.2 298Q418.7 301.5 422.2 303M417.2 298Q420.3 295.4 424.3 295.5M428 298.3Q427 300.7 428 303M428 303Q427.3 300.7 428 298.3M409.3 297.8Q410.3 301.4 409.3 305M434.3 318Q419.1 316.7 409.3 305M437.2 299.7Q437.8 303.2 440.5 305.5M431.7 303.7Q436.3 303.4 440.5 305.5M462.5 298.8Q464.7 302 465.2 305.8M457.7 316.3Q463.9 312.8 465.2 305.8M465.2 305.8Q465 301.9 462.5 298.8M432.2 288.8Q444.5 305.5 465.2 305.8M416.7 309.7Q413.8 309.3 411 310M411 310Q425.7 317.2 441.3 312.5M416.7 309.7Q420.2 309.2 422.7 306.7M426 311.2Q421.1 312.2 416.7 309.7M431.7 303.7Q432.2 305.6 433.8 306.7M428 303Q431.6 303.7 433.8 306.7M433.8 306.7Q433.5 304.6 431.7 303.7M428 303Q426.6 305.7 426.3 308.7M432.2 310Q432.3 308 433.8 306.7M426.3 308.7Q429 310.3 432.2 310M426 311.2Q426.7 310 426.3 308.7M426 311.2Q428.9 309.6 432.2 310M426 311.2Q428.9 309.4 432.2 310M447.7 308.8Q443.6 309.2 441.3 312.5M447.7 308.8Q444.5 306.3 440.5 305.5M441.3 312.5Q440.2 309.1 440.5 305.5M447.7 308.8Q452.6 308.9 456.3 312.2M441.3 312.5Q448.8 310.9 456.3 312.2M419.7 321.7Q440.4 326.3 456.3 312.2M416.7 309.7Q417.9 311.5 418 313.7M411 310Q405.4 312.2 401.8 317M401.8 317Q417.7 311.2 434.3 313.8M417.2 315.8Q417.8 314.8 418 313.7M424.7 317Q421.1 315 417.2 315.8M417.2 315.8Q419.2 318.4 419.7 321.7M433.8 306.7Q423.2 307 417.2 315.8M424.7 317Q424.5 313.9 426 311.2M434.3 313.8Q428.9 313.6 424.7 317M432.2 310Q432.6 312.3 434.3 313.8M434.3 313.8Q433.7 311.7 432.2 310M434.3 318Q434.9 315.9 434.3 313.8M434.3 318Q437.2 314.5 441.3 312.5M457.7 316.3Q457.7 314 456.3 312.2M457.7 316.3Q456.7 307.9 450.5 302M440.5 305.5Q446.3 315.3 457.7 316.3M417.2 315.8Q419.7 318.2 419.7 321.7M420.5 292.5Q411.7 306.8 419.7 321.7M283.3 187.2Q292.4 186.8 301.2 184.7M278.8 188.3Q291.6 191 298.3 202.2M298.3 202.2Q308 204.1 312.2 213M298.3 202.2Q306.1 207.5 305 216.8M267.2 204.5Q277.4 205.1 283 213.7M344.7 140Q356.9 142.9 369.2 140M353.3 143.8Q358.1 145.9 363.3 146M349.2 151Q357.5 147.9 366.2 150M367 163.8Q361.1 164.1 355.8 166.7M309.5 103Q307.7 127.1 324.2 144.7M312 108.5Q316.4 133.3 338.8 144.7M303.8 125Q313.6 142.2 333 146.7M303.8 125Q312.8 149.1 337.5 156.3M323 109.3Q331 110.1 337.2 115.2M373.3 206.3Q379.5 213.3 388.7 212.5M423.3 210.3Q412 213.6 400.3 211.3M423.3 210.3Q419.9 203.3 412.5 200.5M423.3 210.3Q427.6 197.7 440.8 195.5M435.5 188.7Q428.8 190.2 422.5 193M415.8 187.5Q420.8 184 425 179.7M449.7 187Q444.6 190.5 440.8 195.5M455.8 186.3Q452.8 186.7 449.7 187M463.8 178.8Q459.6 182.3 455.8 186.3M469.5 174.2Q466.7 176.5 463.8 178.8M442 211.3Q447.6 208 452.5 203.7M424.5 219.7Q431.2 211.1 442 211.3M437.2 216.7Q440.1 214.5 442 211.3M418.8 225.3Q411.9 224.9 405 224.5M418.8 225.3Q422.8 223.6 424.5 219.7M424.5 219.7Q425.3 214.8 423.3 210.3M433.8 248Q424.5 244.9 415 247.5M445.3 234.7Q441.8 236.3 439.2 239.2M388.7 212.5Q377.4 221.6 383.8 234.5M391.2 205.8Q389.2 208.9 388.7 212.5M398.3 206.7Q398.9 209.2 400.3 211.3M406.3 199.7Q401.6 204.6 400.3 211.3M425.8 233Q423.9 227.8 418.8 225.3M355.3 251.2Q360.6 248.3 363.3 243M375.8 252.8Q376.5 246.3 382.5 243.8M397.2 250Q395.2 245.7 391.7 242.5M356.7 235.3Q361.2 233.7 365.8 232M430.8 147.5Q420.2 147.4 415.3 138M430.8 147.5Q438 145.9 440 138.8"/>
<path class="ah" d="M190.7 96.2L193.2 98.8L190.7 99.9ZM187.3 104.3L187.4 100.7L189.9 101.8ZM189.3 96.5L190.7 99.9L188 99.9ZM206.8 96.7L203.4 95.4L205.2 93.4ZM221.8 93.4L222.4 97L219.7 96.4ZM224.6 92.8L227.7 94.7L225.5 96.3ZM241 97.8L238.6 100.5L237.4 98.1ZM226.6 96.3L229.3 93.9L230.2 96.4ZM225.9 118.9L225.8 115.3L228.3 116.2ZM206.3 97.4L202.7 97L203.9 94.6ZM211.7 102.4L214.7 104.5L212.4 106ZM221.1 100.1L219.9 103.6L217.9 101.9ZM222.6 100.9L223.2 104.5L220.5 103.9ZM222.2 93.5L223.2 97L220.5 96.7ZM226.6 106.4L227.1 110L224.5 109.4ZM193.6 104.8L197.3 104.7L196.4 107.2ZM229.6 105.6L232.8 107.4L230.7 109.1ZM228 115.2L227.2 111.7L229.8 112.1ZM231.7 108L228.6 109.9L228.2 107.2ZM193.5 106.9L190.8 104.4L193.2 103.2ZM203.2 103.1L206.5 101.6L206.6 104.3ZM211.4 108.3L211.6 111.9L209 111.1ZM186.9 103.6L183.4 104.8L183.5 102.1ZM184.7 110.8L185 114.4L182.4 113.6ZM198.4 110.6L202 109.8L201.5 112.5ZM198.4 107.3L199 110.9L196.4 110.3ZM218.7 109.5L222.3 110.3L220.7 112.5ZM188.4 117.1L189.9 120.5L187.2 120.5ZM199.1 113.9L196 115.8L195.5 113.2ZM220.4 116.9L218.3 119.8L216.8 117.5ZM223.2 119L220.5 116.6L222.9 115.4ZM197.9 119.3L195.2 121.8L194.2 119.3ZM226.3 121.9L226.5 125.6L223.9 124.7ZM169.9 114.4L170.2 110.7L172.6 111.9ZM174.3 122.1L175.8 125.5L173.1 125.6ZM189.6 119.1L186.3 117.5L188.3 115.7ZM185.7 116.4L185.1 120L182.8 118.6ZM210.5 122.8L208.5 125.9L206.9 123.7ZM214.9 125.1L214.9 121.4L217.4 122.4ZM212.6 125.3L209.8 127.8L208.9 125.2ZM224.7 118.7L223.4 115.3L226.1 115.3ZM221.4 123.4L218.7 125.9L217.8 123.3ZM222.3 125.9L224.2 122.8L225.8 125ZM228.4 122.4L227.1 118.9L229.8 119ZM159.3 124.3L155.6 124.4L156.5 121.8ZM159.4 132.7L156.2 130.9L158.3 129.2ZM166 120.1L164.7 123.5L162.7 121.7ZM157.9 127L161.3 128.3L159.5 130.3ZM165.9 124.7L168.9 122.7L169.5 125.3ZM170 129.8L166.4 130.2L167.1 127.6ZM165.8 124.4L168.6 122L169.4 124.6ZM176.2 126.8L179.7 125.8L179.5 128.5ZM171.7 121.8L170.4 118.4L173.1 118.4ZM174.5 122.1L176.1 125.4L173.4 125.6ZM175.1 123.3L176.8 120.1L178.5 122.1ZM179.7 128.4L181.6 131.6L178.9 132ZM182.4 126.3L186.1 126.3L185.1 128.8ZM182.4 127.6L185.1 125.1L186.1 127.6ZM186.2 128.1L187.9 131.4L185.2 131.6ZM186.4 125.9L183.1 124.4L185 122.5ZM200 128.5L200.8 124.9L203 126.4ZM198.8 124.8L202.4 124.3L201.7 126.9ZM205.6 125.6L206.8 129.1L204.1 128.9ZM217 125.6L213.6 124.3L215.4 122.3ZM163.4 128.9L165.6 131.8L163 132.5ZM170.4 132.7L168.3 135.7L166.9 133.5ZM165.7 119.8L164 123L162.2 120.9ZM206 133.3L203.8 130.5L206.4 129.7ZM199.9 134.2L202.9 136.3L200.7 137.8ZM176.3 137.3L177.2 140.8L174.5 140.5ZM172.2 134.1L172.4 137.8L169.8 136.9ZM176.8 137.3L178.3 140.6L175.6 140.8ZM170.6 120.1L173.8 121.8L171.8 123.6ZM187.5 137.5L187 141.2L184.7 139.9ZM186.8 134.1L190.4 135.1L188.7 137.3ZM188.8 138.2L187.7 134.7L190.4 134.9ZM198.1 134.8L199.6 138.2L196.9 138.2ZM311.5 111.9L312.4 115.5L309.8 115.1ZM319.7 108.2L316.1 108.3L317 105.7ZM325.1 112.1L328.3 113.9L326.1 115.6ZM321.2 117.1L322.1 113.5L324.3 115ZM322.1 125.3L319.6 122.6L322.2 121.6ZM313.7 120.9L314.6 124.5L312 124.1ZM316.6 125.7L315.2 122.3L317.9 122.3ZM335.1 117.9L334.1 121.5L331.9 119.8ZM336.6 118.6L337.4 122.2L334.8 121.7ZM336.5 120L333.6 117.8L335.9 116.4ZM335.6 120.8L332.1 119.8L333.8 117.7ZM333.6 122.6L336.6 124.7L334.3 126.2ZM335.7 120.7L332.2 119.6L334 117.5ZM333.4 122.7L336.2 125L333.9 126.3ZM316 125.8L314 122.7L316.6 122.2ZM324.9 121.7L322.5 124.5L321.3 122ZM323 119.3L325.7 117L326.6 119.5ZM325.7 126L327.1 122.6L329.1 124.5ZM345.8 124.4L348.9 126.3L346.8 127.9ZM346.1 125.4L344.2 122.3L346.8 121.8ZM349.8 128.8L349.4 125.2L352 125.8ZM310.9 118.5L308 120.8L307.2 118.2ZM313.2 129.4L309.9 131L309.7 128.3ZM315.1 123.6L313.2 126.8L311.5 124.6ZM324.7 119L321.1 119.2L322 116.6ZM340.4 135.5L337 134L339 132.2ZM321.8 133.2L325.4 133.4L324.3 135.8ZM330 125.1L326.4 124.9L327.5 122.4ZM341 131.6L342.8 128.4L344.5 130.5ZM329.8 128.7L326.9 131L326.1 128.4ZM337.5 130.5L335.4 127.5L338 126.8ZM330.6 129L330.8 125.4L333.3 126.5ZM337.9 132.8L334.8 134.7L334.3 132.1ZM328.2 135L330.7 132.4L331.8 134.9ZM324.8 131.6L327.5 134.1L325.1 135.3ZM337.9 132.6L334.7 134.4L334.3 131.7ZM345.2 130.9L341.6 130.6L342.8 128.2ZM344.9 131.9L341.3 132.6L341.8 129.9ZM344.8 130.6L348 132.3L345.9 134.1ZM348.1 132L350.7 134.5L348.3 135.6ZM340.8 141.8L341.6 138.2L343.8 139.7ZM349.2 144.2L352.6 145.5L350.8 147.5ZM351.8 135.4L355.2 136.7L353.4 138.7ZM336.8 139.1L340.3 140.3L338.5 142.3ZM334.5 140.3L336.1 143.6L333.4 143.8ZM325.1 140.6L326.9 143.8L324.2 144.2ZM325.5 140.6L327.6 143.5L325 144.2ZM347 148.3L343.8 146.5L345.9 144.8ZM341.1 150.4L337.9 148.6L339.9 146.9ZM345.8 146.1L347.8 149.2L345.1 149.7ZM329.4 130.1L332.4 132.2L330.1 133.7ZM345.4 155.8L348.6 157.6L346.4 159.3ZM328.4 137.5L332 136.9L331.5 139.5ZM344 154.4L340.4 153.5L342.1 151.3ZM353.7 162.6L355.5 159.4L357.2 161.4ZM347.4 160.8L349 164.1L346.3 164.3ZM348.8 161.8L345.9 159.6L348.1 158.2ZM349.3 170.7L352.8 169.6L352.6 172.3ZM348.9 168.3L348.3 171.9L346 170.5ZM342.6 169.3L338.9 169.4L339.9 166.8ZM353.2 168.9L351.4 172.1L349.7 170ZM339.6 171.4L341.7 168.5L343.2 170.7ZM339.5 179.9L338.5 176.4L341.2 176.6ZM346.5 153.2L344.6 156.3L342.9 154.2ZM356 161.2L359.2 163L357.1 164.7ZM352.3 147.2L352.7 150.8L350.1 150ZM348.6 154.4L349.3 158L346.6 157.5ZM338.5 176.3L341.4 178.5L339.1 179.9ZM341.5 180.7L342.7 177.3L344.7 179.1ZM353.7 175.6L350.7 177.8L350 175.2ZM338.3 180L336.2 177L338.9 176.3ZM367.1 113.5L370.4 115L368.4 116.9ZM367 113.6L370.3 115.2L368.3 117ZM370.9 129.6L369.9 133.1L367.8 131.5ZM371.4 137.3L372.5 133.8L374.6 135.6ZM367.9 136.8L365.4 134.1L367.9 133.1ZM363.2 142.5L361.8 139.2L364.5 139.1ZM366.4 144.5L368.9 141.8L370.1 144.2ZM364.6 142.8L364.7 139.1L367.2 140.1ZM373.4 150.6L370.3 152.6L369.8 149.9ZM369.5 150.8L373.2 150.4L372.5 153ZM375.7 146.7L373.4 143.9L375.9 143.1ZM367.5 160.4L366.7 156.8L369.4 157.2ZM369.7 161.7L371.6 158.5L373.2 160.7ZM366.5 153.5L368.2 156.7L365.5 157ZM366.3 165.2L369 162.8L369.9 165.3ZM361.8 172.7L359.5 169.9L362 169ZM365 153.3L365 156.9L362.5 156ZM399.4 102.1L397.5 105.2L395.9 103.1ZM392.1 104L395.2 102L395.7 104.7ZM402.9 111.2L399.5 109.8L401.4 107.9ZM411.4 101.1L415 100.5L414.4 103.1ZM412.6 114.5L412.3 110.9L414.9 111.6ZM406.8 107.6L404.4 110.4L403.2 108ZM403.8 109.8L405.1 113.2L402.4 113.2ZM405.3 109.5L408 112L405.5 113.1ZM425.6 110.6L429 111.9L427.2 113.9ZM409.7 109.9L410.2 113.6L407.6 112.9ZM414.2 108.6L417.6 109.9L415.8 111.9ZM423.2 109.8L426.6 108.6L426.5 111.3ZM408.3 117.1L404.7 117.7L405.2 115.1ZM414.7 116.2L417 113.3L418.3 115.7ZM422.6 111.8L426.1 112.5L424.7 114.8ZM446.6 120.1L442.9 119.7L444.2 117.3ZM436 120.8L435.7 117.2L438.3 118ZM430.8 117L427.7 119L427.2 116.4ZM433.7 120.9L431.2 118.3L433.7 117.3ZM415.1 117.6L418.4 116.1L418.6 118.7ZM401.2 118.3L403.9 115.8L404.9 118.3ZM401.9 114.4L398.9 116.5L398.3 113.8ZM400.3 122.1L403.5 123.8L401.5 125.6ZM399.5 125.6L403.1 125.2L402.4 127.8ZM414.5 126L418.2 126.4L416.9 128.8ZM407.7 116.2L411 117.8L409 119.6ZM437.9 123.3L437.3 126.9L435 125.5ZM446.6 120L443 119.6L444.3 117.2ZM443.1 119.8L446.2 117.9L446.7 120.6ZM446.8 123.6L444.7 126.6L443.2 124.4ZM453.1 121.1L456.2 119.2L456.7 121.9ZM454.8 124.7L452.2 127.2L451.1 124.7ZM429.6 126.3L433 127.6L431.1 129.6ZM427.3 128L430.1 130.4L427.7 131.6ZM437.5 129.5L440.2 127.1L441.1 129.6ZM412.6 129.9L408.9 129.9L409.9 127.3ZM420.3 131.2L423.7 129.8L423.8 132.5ZM420.9 128.4L421.1 132.1L418.5 131.2ZM427.3 131.8L429.8 129.1L430.9 131.5ZM406.2 132.1L404.8 135.5L402.9 133.6ZM412.1 136.7L408.5 136.7L409.5 134.2ZM421.6 135.7L420.1 139L418.2 137ZM407.4 137.9L409.3 134.8L410.9 136.9ZM414.4 140.3L417 137.7L418 140.2ZM443.4 134.3L444.1 137.9L441.4 137.4ZM437.8 131.4L438.6 135L435.9 134.6ZM439.1 135.5L436.9 132.6L439.5 131.9ZM443.4 138.1L446.4 136L447 138.6ZM430.9 130.4L434.1 128.6L434.5 131.3ZM448.1 131.8L451.8 131.9L450.7 134.4ZM447.9 138.8L444.7 140.5L444.3 137.9ZM457.6 140.8L454.3 139.3L456.3 137.4ZM459 140L456.7 137.2L459.3 136.4ZM456.5 143.1L453 144.1L453.3 141.5ZM432.4 144.4L432.7 140.8L435.1 142ZM429.9 144.1L427.8 141.2L430.4 140.5ZM126.7 178L126.2 174.4L128.8 175ZM124.2 178.2L121.5 175.7L124 174.6ZM123.3 177.5L122.4 181L120.2 179.4ZM131.2 180.7L130.2 177.2L132.9 177.5ZM136.6 182.8L137 179.1L139.4 180.4ZM122.3 183L119.5 185.4L118.6 182.8ZM121.3 180.7L124.6 179.2L124.8 181.9ZM127.4 183.4L123.8 184L124.4 181.4ZM129 187L127.5 183.7L130.2 183.6ZM121.9 185.2L122.1 181.6L124.6 182.8ZM110.9 183.7L114.1 181.9L114.5 184.6ZM114.9 189.8L116.2 193.2L113.5 193.2ZM114.2 190.1L115.3 186.7L117.4 188.4ZM129.9 192.2L129.9 188.5L132.4 189.5ZM121.1 191.7L123.1 194.8L120.5 195.3ZM123.4 189.9L127.1 190.3L125.8 192.7ZM111.5 186L108 187L108.3 184.3ZM127.2 193.4L126.4 196.9L124.2 195.4ZM123.7 198.1L125.8 195.1L127.3 197.3ZM129.9 192.2L129.7 188.5L132.3 189.4ZM103.3 193.9L106.9 194.5L105.6 196.8ZM109.7 198.3L107.7 195.2L110.3 194.7ZM115.5 192.6L118.8 191L118.9 193.7ZM113.7 195.9L116.5 198.2L114.2 199.5ZM115.2 191.3L111.8 189.9L113.7 188ZM131.6 198.9L128.5 200.8L128 198.2ZM139.5 199L137.2 201.9L135.9 199.5ZM111.8 204.9L109.1 202.4L111.5 201.2ZM110.9 196.1L111.1 199.8L108.6 198.9ZM107.9 202.3L111 204.2L108.9 205.8ZM124.3 200.2L127.8 199L127.6 201.7ZM129.5 201.6L125.8 201.2L127.1 198.8ZM112 196.3L113.3 199.7L110.6 199.7ZM103.3 201.8L101.7 205.1L99.8 203.1ZM129.3 204.6L126.5 207L125.6 204.5ZM123.4 205.1L120.8 207.6L119.8 205.1ZM139.8 207.2L138.1 210.4L136.3 208.3ZM144.2 200.8L146.5 203.7L143.9 204.5ZM138.9 207.8L141.8 205.6L142.5 208.2ZM142.8 201.5L141.7 198L144.4 198.3ZM145.6 203.5L148 200.7L149.3 203.1ZM146.3 199.2L149.9 200L148.4 202.2ZM130.1 202.7L132.6 205.4L130.1 206.4ZM110.6 205.7L111.9 202.3L113.9 204.1ZM119.3 191.6L119.6 195.3L117 194.5ZM115.9 210.3L119.3 211.6L117.5 213.6ZM130 205.9L128.4 209.2L126.6 207.2ZM142.4 205.2L142.7 201.6L145.1 202.8ZM139 205.2L135.7 206.7L135.6 204ZM131.4 206.8L131.3 210.5L128.8 209.5ZM131.4 212.9L129.8 209.6L132.5 209.4ZM157.7 206.2L154.4 204.6L156.4 202.8ZM156.7 209.8L153.8 212L153 209.4ZM124.8 209.9L121.5 211.4L121.4 208.7ZM129.7 213.6L131.8 216.6L129.2 217.2ZM132.9 210.9L131.2 214.2L129.4 212.2ZM153.1 217.1L153 213.4L155.5 214.3ZM135.4 189.3L137.2 192.5L134.5 192.8ZM143.8 210.1L147.4 210.7L146.1 213ZM144.8 214.8L141.6 213.1L143.7 211.3ZM142.2 211.5L144.7 214.2L142.2 215.2ZM147.4 214L146.4 210.5L149 210.8ZM106.9 211.5L106.7 215.1L104.2 214ZM110.7 210.3L109 213.5L107.3 211.5ZM105.9 223.8L107.5 220.5L109.3 222.5ZM105.5 223.5L106.6 220L108.7 221.7ZM119.2 215.4L119.2 219.1L116.7 218.1ZM107.1 226.1L104.3 223.7L106.7 222.4ZM109.9 211.4L112.6 213.9L110.2 215.1ZM108.5 204.6L108 208.3L105.6 206.9ZM244.3 187.9L246.8 190.6L244.3 191.6ZM256.6 189.4L253.7 187.1L256.1 185.8ZM271.9 145.1L271.6 148.8L269.2 147.6ZM271.5 153.3L270.8 156.9L268.5 155.4ZM272.2 145.3L272.3 148.9L269.7 148ZM271.4 163.8L274.5 165.8L272.3 167.4ZM267 163.9L266.2 167.4L264 166ZM249 163L250.5 166.3L247.8 166.4ZM250.3 169.8L247.1 168L249.2 166.3ZM247.9 162.8L248.3 166.5L245.7 165.8ZM258.5 166.3L260.4 169.4L257.7 169.8ZM252.3 159.3L255.6 157.8L255.8 160.5ZM263.5 180.7L262.3 177.2L265 177.4ZM260.3 170.7L257.1 168.9L259.1 167.2ZM235.8 173.3L238.2 176L235.7 176.9ZM238.1 170.8L241.7 170.2L241.1 172.8ZM232.6 176.5L236.1 177.7L234.3 179.7ZM229.8 179L233.4 179.3L232.2 181.8ZM226.9 181L228.4 184.3L225.7 184.4ZM249 172.8L245.8 174.5L245.5 171.8ZM268.4 172.1L269.1 168.5L271.4 169.9ZM255.1 170.2L256.7 166.9L258.5 168.9ZM281.1 174.3L282 177.8L279.3 177.4ZM276 168.5L279.4 167.3L279.3 170ZM280.3 174L280.2 177.7L277.7 176.6ZM286.3 175.9L286.9 179.5L284.3 179ZM265.7 179.5L262.7 177.4L265 175.9ZM284.5 172.9L288 173.8L286.4 176ZM260.3 199.6L261.1 196.1L263.3 197.6ZM248.5 176.6L252 175.5L251.7 178.2ZM248.8 185.7L247.9 182.1L250.6 182.5ZM239.7 181.1L241.5 184.3L238.8 184.6ZM254.1 180.5L252.7 177.1L255.4 177.1ZM252.9 184.6L254.4 187.9L251.8 188.1ZM259.7 182.8L261.1 179.4L263 181.3ZM252.1 188.4L254.9 186L255.8 188.6ZM270.3 176.2L273.9 175.5L273.4 178.1ZM242 189.3L245.6 189L244.9 191.6ZM279.5 184.9L278.9 181.3L281.5 181.9ZM279.8 180L276.2 179.5L277.5 177.2ZM270.3 175L273.5 173.2L273.9 175.8ZM224.7 181.9L227 179.1L228.3 181.4ZM219.1 189.6L220.8 186.3L222.6 188.3ZM236.5 180.2L235.4 183.7L233.3 181.9ZM236.3 186.4L240 186.1L239.1 188.7ZM241.2 183L241.5 186.7L238.9 185.9ZM246.3 185.8L249.9 185.6L249.1 188.2ZM263.9 180.5L267.4 179.6L267 182.3ZM240.9 192.3L237.2 192.6L238 190ZM258.6 194.8L261.7 196.8L259.5 198.3ZM255 190.7L251.5 189.6L253.2 187.5ZM259.1 187.8L255.5 187.1L257 184.8ZM258.6 190.9L255.6 193L255 190.4ZM267.4 187.6L270.6 189.5L268.4 191.1ZM275.1 187.3L278.4 185.7L278.6 188.4ZM272.9 190.9L273.8 187.3L276 188.9ZM272.6 195.8L275.2 193.3L276.2 195.8ZM275.1 188L278.7 187.2L278.3 189.9ZM268.4 186.7L271.9 187.6L270.3 189.8ZM218.7 185.5L216.5 188.4L215.1 186.1ZM219.7 193.9L223.4 194.2L222.2 196.6ZM219.3 186.2L218.1 189.7L216.1 187.9ZM229.6 186.2L226.7 188.4L226 185.7ZM232 194.5L229.1 192.4L231.4 190.9ZM212.7 193.2L209.8 195.5L209 192.9ZM209.8 197.7L212.3 195L213.5 197.4ZM223.2 190.8L219.8 192L219.8 189.3ZM240.8 196.4L237.2 196.9L237.8 194.3ZM241.5 195.5L239.7 198.7L238 196.6ZM229.9 192L233.6 191.9L232.7 194.5ZM255.3 198.3L253.9 201.7L252 199.7ZM250.3 195.1L247.1 193.3L249.2 191.6ZM268.5 191.1L265.2 189.5L267.2 187.7ZM243.5 198.3L241.5 195.2L244.2 194.7ZM243.4 196.7L244 200.3L241.4 199.7ZM257.9 199.8L258.3 203.4L255.7 202.7ZM256.3 199.7L253.2 197.8L255.3 196.2ZM269.1 201.6L269.8 198L272.1 199.5ZM226.9 202.6L227.7 199.1L230 200.6ZM230.9 204.5L229.3 201.3L232 201ZM232.8 204.9L233.2 201.3L235.6 202.6ZM234.1 201L235.8 204.2L233.1 204.5ZM236.1 200.1L239.4 201.7L237.4 203.5ZM250.2 205.1L248.6 208.4L246.8 206.4ZM242.3 200.1L241.6 203.7L239.4 202.3ZM268.2 195.9L266.5 199.2L264.8 197.2ZM227.3 208.1L230.6 209.7L228.6 211.5ZM222.7 215.7L223.7 212.2L225.8 213.8ZM253.9 206.1L256.2 209L253.6 209.8ZM245.9 208.3L249.5 207.7L248.9 210.3ZM249.4 211.3L245.7 211L246.9 208.6ZM269.5 207.1L272.7 208.8L270.7 210.6ZM223.8 217.2L226.4 214.6L227.5 217.1ZM224.1 213.7L221.2 215.8L220.5 213.2ZM225 218.2L223.7 214.8L226.4 214.8ZM225.8 208.9L227.9 211.9L225.3 212.5ZM228.4 197.6L227.8 201.2L225.5 199.8ZM414.5 190.7L414.4 194.4L411.9 193.3ZM410.7 193.9L414 195.4L412.1 197.3ZM409.9 197.4L406.7 195.7L408.8 193.9ZM418.1 195L421.6 194L421.4 196.6ZM411.7 192.3L415.3 191.9L414.6 194.5ZM417.2 197.1L420.5 198.5L418.7 200.4ZM437.7 193L434.2 192L435.8 189.9ZM432.2 189.7L429.4 192L428.5 189.5ZM448.4 190.2L448.3 193.9L445.8 192.9ZM451.1 190.2L453.7 192.7L451.3 193.8ZM452 200.2L450.2 197L452.9 196.7ZM442.6 199.1L445.4 201.5L443 202.7ZM441 199.5L442.5 202.9L439.8 203ZM402.5 201L399.7 203.3L398.9 200.8ZM408.6 203L411.7 205L409.5 206.5ZM415.9 202.6L419.5 203.3L418.1 205.6ZM408.5 200.5L405.1 201.9L405.1 199.2ZM445.2 210L447.8 207.4L448.9 209.9ZM376.8 206.4L380.2 205.1L380.2 207.8ZM375.8 208.8L379.2 210.2L377.3 212.1ZM390.9 209.9L392.1 206.4L394.1 208.1ZM393.4 208.5L396.6 210.2L394.5 212ZM402.6 214.6L405.6 216.7L403.4 218.2ZM401.4 224.8L401.6 221.2L404 222.3ZM396 209.3L394.8 212.7L392.8 210.9ZM391.9 211.2L394.5 208.6L395.5 211.1ZM423.2 216.4L420.7 213.8L423.2 212.8ZM439.9 214.6L441.8 211.4L443.4 213.6ZM428 219.5L431.3 218L431.4 220.7ZM425.7 212.9L429 214.5L427 216.3ZM422.9 223.2L425.3 220.5L426.5 222.8ZM385.5 225.6L382.9 228.2L381.8 225.7ZM383.8 228.3L382.4 224.9L385.1 224.9ZM391.2 226.5L394.6 227.9L392.8 229.9ZM398.6 226.6L402.2 226.6L401.2 229.1ZM414.5 226.8L411.7 229.2L410.9 226.6ZM409.1 229.7L410.6 226.4L412.4 228.3ZM372.6 232.4L375.1 235.1L372.6 236.1ZM374.2 231.2L377.7 232L376.2 234.2ZM359.5 233.3L361.4 230.2L363 232.3ZM360.1 234.7L363.2 232.7L363.7 235.4ZM379.2 233.7L381.7 231L382.8 233.5ZM387.1 239.7L390.1 241.9L387.8 243.3ZM404.6 228.8L402.1 226.2L404.5 225.1ZM419.4 234.2L421.7 231.3L423 233.7ZM421.4 234.1L418.5 236.3L417.8 233.7ZM442 235.6L439.1 237.8L438.3 235.2ZM435.2 237L436.6 233.6L438.5 235.4ZM410.1 233.4L413.7 232.8L413.1 235.4ZM403.5 232.9L406.8 231.4L406.9 234.1ZM416.6 232.4L415.5 228.9L418.2 229.1ZM435.7 238.7L432.2 239.5L432.6 236.8ZM444.2 239.4L440.6 238.7L442 236.4ZM410.3 240.4L413.8 241.3L412.2 243.5ZM410.5 239.4L410.1 243L407.7 241.7ZM373.6 241.8L370 242.4L370.6 239.7ZM386.6 239.6L383.7 241.7L383 239.1ZM393.9 239.9L395.1 236.4L397.2 238.2ZM393.8 248.2L390.2 247.7L391.5 245.3ZM398 246.3L397.4 242.7L400 243.3ZM432 245.1L429 243L431.2 241.5ZM360.1 244.3L357.5 246.9L356.5 244.4ZM366.3 244.6L363.3 246.6L362.7 244ZM375.2 249.4L373.2 246.3L375.9 245.8ZM376.9 249.5L376.7 245.9L379.2 246.7ZM423 182.5L422.1 186L419.9 184.5ZM428.1 181.2L431.7 181.5L430.5 184ZM457.2 183.2L457.3 179.5L459.8 180.6ZM453.4 200.3L453 196.7L455.6 197.4ZM467.1 177.7L469.9 175.4L470.8 178ZM482.7 163.7L484.5 160.5L486.2 162.6ZM491.3 202.3L494.9 202.5L493.8 204.9ZM486.9 215.9L487.6 212.3L489.9 213.8ZM495.5 205.8L499.2 205.8L498.1 208.3ZM487.4 216.4L488.9 213L490.8 214.9ZM504.2 207.8L504.7 211.5L502.1 210.8ZM506.4 210.1L503.5 207.9L505.9 206.5ZM501.5 204.2L498 205.2L498.3 202.5ZM500 205.4L502.4 208.2L499.9 209.1ZM501.2 206.1L500.9 202.5L503.5 203.3ZM496.2 216.7L499.9 217L498.7 219.4ZM493.4 214.1L496.1 211.6L497.1 214.1ZM494 212.6L490.9 214.5L490.4 211.9ZM495 218.6L497.6 216L498.6 218.5ZM505.9 215.8L504.7 219.2L502.6 217.5ZM507.4 218.3L508 214.7L510.3 216ZM494 217.2L495.4 213.8L497.4 215.7ZM506.7 221.2L506.3 217.6L508.9 218.3ZM508.4 214.8L511.7 213.3L511.9 216ZM486 220.7L487.6 217.4L489.4 219.3ZM509 221.1L510.4 224.5L507.7 224.5ZM491.7 224.2L488.3 223.1L490 221ZM505.2 217.8L503.5 214.6L506.1 214.3ZM503.2 218.7L499.9 217.2L501.8 215.4ZM505.3 215.2L503.4 218.3L501.8 216.1ZM492.4 223.9L494.7 226.8L492.1 227.6ZM494.3 218.5L496.6 221.3L494.1 222.1ZM497.5 228.1L501.1 228.4L499.9 230.8ZM499.4 224.4L495.9 223.2L497.7 221.2ZM484.6 225.7L482.5 222.6L485.2 222.1ZM484.7 222.3L485.7 225.8L483 225.6ZM478.2 227.1L476.3 223.9L479 223.5ZM495.8 230L494.9 226.5L497.6 226.8ZM493 230.9L489.7 229.4L491.7 227.5ZM138.7 264.7L139.1 268.3L136.5 267.6ZM149.9 269.2L146.3 270.1L146.7 267.4ZM150.1 270.8L147.3 273.2L146.4 270.7ZM156.3 271.5L159.9 272.1L158.5 274.4ZM153 274.8L150.5 272.1L153 271.1ZM153.5 273.1L155 276.5L152.3 276.6ZM130.8 279L127.7 277.1L129.8 275.5ZM132.6 278.2L130.8 275L133.5 274.7ZM151 275.4L154.3 273.9L154.4 276.6ZM144.6 277.4L142.5 280.4L141 278.1ZM138.6 283.2L135.4 281.4L137.5 279.7ZM144.6 277.4L142.5 280.4L141 278.1ZM141.7 278.4L145.3 278.5L144.3 281ZM151.2 282.2L153.2 279.2L154.8 281.4ZM156.5 282L152.8 282L153.8 279.5ZM157.7 279.9L157.8 283.6L155.3 282.7ZM135.2 278.1L132.4 280.4L131.6 277.9ZM135.9 284.5L133.7 281.6L136.3 280.9ZM135.3 278.3L132.6 280.8L131.6 278.3ZM136.4 282.3L140 281.6L139.5 284.3ZM177.4 281.8L173.7 281.6L174.9 279.2ZM176 281.6L179 279.4L179.7 282.1ZM175.1 288.1L178.5 286.6L178.6 289.3ZM173.9 285.7L175.1 282.2L177.2 284ZM153.2 286.7L150 288.5L149.6 285.8ZM160.8 287.9L164.4 288.1L163.3 290.6ZM145.6 286.3L143.7 289.4L142.1 287.3ZM140.8 296.9L137.2 296.4L138.6 294.1ZM164.6 289.5L163.6 293L161.5 291.4ZM136.2 293.4L139.8 293.5L138.8 296ZM145.6 297.9L141.9 297.9L142.9 295.4ZM170.2 290.9L173.2 288.9L173.8 291.5ZM162.3 298.5L163.9 295.3L165.7 297.3ZM171.6 288.7L168.1 287.6L169.8 285.5ZM180.9 290.1L177.3 289.4L178.8 287.1ZM182.9 285.9L186.2 287.5L184.2 289.3ZM182.2 288.9L179.5 286.5L181.8 285.3ZM196.2 295.5L197.6 292.1L199.6 294ZM199.5 294.6L196.8 297.2L195.8 294.7ZM177.4 301.1L179.1 297.9L180.8 300ZM143.9 295.6L142.2 298.8L140.4 296.8ZM168.5 295.7L166 298.3L164.9 295.9ZM152.2 298.5L155.3 296.6L155.8 299.2ZM140.7 300.1L138.2 302.8L137 300.3ZM140.4 298L136.8 298.7L137.3 296ZM156.3 298.4L157.9 295.1L159.7 297.1ZM184.9 296L181.7 294.3L183.7 292.6ZM184.4 296.6L180.8 295.7L182.4 293.5ZM177.1 293L180.6 294L178.9 296.1ZM164 300.7L160.3 300.7L161.3 298.2ZM173 300.3L170.2 297.9L172.6 296.7ZM163 299.8L165.8 297.5L166.6 300.1ZM149.6 303.6L146.1 302.3L147.9 300.3ZM188.1 303.3L185.1 301.1L187.4 299.7ZM182.2 308.4L183.7 305.1L185.6 307.1ZM186.8 304.8L183.1 304.8L184.2 302.3ZM159.2 304.3L160.1 307.8L157.5 307.5ZM161.4 305.7L160.1 302.3L162.8 302.3ZM170.1 307.6L172.3 310.5L169.7 311.2ZM181.4 307.1L182.8 310.5L180.1 310.6ZM166.5 302.6L169.5 304.8L167.2 306.2ZM163 310.1L159.3 310.6L160 308ZM143.2 315.8L145.5 313L146.8 315.4ZM143.6 317.9L147.2 317L146.8 319.7ZM155.3 314.7L158.6 313.1L158.8 315.8ZM165.9 306.8L165.1 310.4L162.9 308.9ZM176.2 306.5L178.9 308.9L176.4 310.1ZM162.5 315.7L162.7 312.1L165.2 313.2ZM161.3 286.4L164.1 288.7L161.8 290ZM167 314.7L164.3 312.3L166.7 311.1ZM193.8 319.1L193.2 315.5L195.8 316.1ZM191.2 319.5L188.3 317.3L190.7 315.9ZM164.2 317.6L166.9 315.1L167.9 317.6ZM183.1 326.9L181.4 323.6L184.1 323.4ZM176.6 320.1L178.1 323.4L175.4 323.6ZM169.8 307.6L171.8 310.7L169.1 311.2ZM271.3 299.3L267.7 298.4L269.3 296.2ZM274 297.7L272.3 294.5L275 294.1ZM262.4 319.2L262.9 315.5L265.2 316.9ZM270.5 290.9L274.1 291.1L273 293.6ZM276.5 298.2L277.1 294.6L279.4 296ZM280.6 288.4L277 288.7L277.8 286.1ZM289.1 300.4L287.9 296.9L290.6 297ZM245 303.8L242.1 306.1L241.4 303.5ZM250.8 309.3L249.9 305.8L252.6 306.1ZM256.5 308.9L253 310L253.3 307.3ZM270.6 302.6L267.6 304.7L267 302.1ZM274.1 307.6L274 303.9L276.6 304.9ZM277.4 307.2L274.1 305.7L276 303.8ZM286.6 306.3L285.2 309.7L283.3 307.8ZM286.3 311.6L284.6 308.3L287.3 308ZM282.6 313.8L284.6 310.7L286.2 312.9ZM302.9 302.6L300.2 305L299.3 302.5ZM295.9 311.7L295.6 308L298.2 308.9ZM302.8 302.3L300 304.6L299.2 302ZM317.8 303.7L314.8 305.8L314.2 303.2ZM301.9 315.6L301.9 311.9L304.4 312.9ZM307.7 304.4L310.4 306.9L308 308.1ZM309.1 310L306.2 312.2L305.5 309.6ZM319.3 305.7L318.5 309.3L316.3 307.8ZM270.6 307.4L274.2 307.3L273.3 309.9ZM265.2 313.6L262.7 310.9L265.2 309.9ZM270.7 303.1L268 305.5L267.1 303ZM257.6 312L257.2 308.3L259.8 309.1ZM260.7 312.6L262.7 315.6L260.1 316.2ZM262.7 315.6L259.1 314.8L260.6 312.6ZM271.8 314.1L272 317.8L269.5 317ZM272.1 314.2L272.8 317.8L270.1 317.3ZM276.2 311.6L279.8 311.1L279.2 313.7ZM286.4 310.8L284 313.5L282.8 311.1ZM276.3 311.4L279.8 310.6L279.4 313.2ZM257.8 320.2L254.3 319.3L255.8 317.1ZM256.6 309.7L253.4 311.5L253 308.8ZM274.8 313.7L277.9 315.7L275.7 317.2ZM274.3 319.4L274.5 315.7L277 316.9ZM276.1 321.5L279 319.2L279.8 321.8ZM293.6 311.8L291 309.1L293.6 308.1ZM292.4 322.4L294.1 319.1L295.9 321.1ZM292.3 312.6L288.9 311.2L290.8 309.3ZM239.2 321.9L237.2 318.9L239.8 318.3ZM238.7 320.4L242.3 320L241.6 322.6ZM263 322.5L261.3 325.7L259.6 323.7ZM263.2 319.8L264.7 316.5L266.6 318.4ZM242 322.5L242.9 319L245.1 320.5ZM246.8 323.7L243.1 323.8L244.1 321.3ZM236.1 329.5L235 326L237.7 326.3ZM253.4 324.3L256.4 322.3L257 324.9ZM265.8 326.3L262.2 326.2L263.3 323.7ZM286.9 318.5L288.4 321.8L285.7 321.9ZM290.1 330.5L291 326.9L293.2 328.5ZM280.4 326.3L283.3 324.2L284 326.8ZM290 325.5L289.5 321.8L292.2 322.5ZM259.7 325.5L260 329.1L257.4 328.4ZM263.8 330.5L267.4 330L266.8 332.6ZM250.5 331.4L249.8 327.8L252.5 328.3ZM246.9 332.1L244.8 335.1L243.3 332.8ZM254.8 319.5L254.5 323.1L252.1 321.9ZM254.2 331L257.9 330.5L257.2 333.1ZM238.2 339L234.7 337.8L236.4 335.8ZM256.6 310.1L253.7 312.2L253 309.6ZM271.5 325.7L271.5 329.4L269 328.4ZM279.6 329.4L283.1 330.7L281.3 332.7ZM234.3 337.7L235.9 334.4L237.7 336.4ZM235.1 339.8L238.5 338.3L238.6 341ZM243.8 340.4L241 342.8L240.1 340.3ZM244.2 340.4L247.2 338.3L247.8 340.9ZM244.2 341.9L247.8 341.3L247.3 344ZM272.5 341.6L268.9 341.4L270 338.9ZM253.7 338.3L253.2 334.7L255.8 335.3ZM260.1 337L256.5 336.7L257.7 334.2ZM252.3 335.7L248.8 334.6L250.5 332.5ZM260.8 336.1L257.4 334.7L259.2 332.8ZM265.6 335.3L266 331.7L268.3 332.9ZM270.4 335.2L269.8 338.8L267.5 337.4ZM275.4 335.1L278.4 337.1L276.2 338.7ZM277.3 330.6L278.9 333.9L276.2 334.1ZM274.8 345.5L275.7 341.9L277.9 343.5ZM279.3 337.5L282.4 335.7L282.8 338.3ZM279.1 339.2L282.7 339.2L281.8 341.7ZM284.8 336.8L281.4 335.5L283.2 333.5ZM249.9 343.6L247.8 346.6L246.3 344.3ZM249 345.1L248.8 341.4L251.4 342.3ZM250.5 340.3L252.5 343.3L249.9 343.9ZM265.5 342.4L268.3 344.8L265.9 346ZM282.7 352.3L279.2 353.5L279.4 350.8ZM287.9 349.5L288.5 345.9L290.8 347.3ZM277.3 346.1L280.1 348.4L277.7 349.7ZM276.6 341.4L278.7 344.4L276 345ZM345.2 313.8L346.5 317.2L343.8 317.2ZM344.6 327.9L342.2 325.2L344.7 324.3ZM344.8 313.8L345.7 317.3L343 316.9ZM345.9 324.9L345 328.5L342.8 326.9ZM350.5 324.6L353.9 326L352 327.9ZM358.2 329.3L361.6 328.1L361.5 330.8ZM361.9 329.6L362.7 333.2L360 332.7ZM359.4 332.2L358.6 328.6L361.3 329ZM360 328.5L358.4 331.9L356.6 329.9ZM359.6 328.1L357.6 331.2L356.1 328.9ZM342.5 332L339.4 334L338.8 331.4ZM343.1 334.1L346.3 332.3L346.7 335ZM336.4 340.2L338 336.9L339.8 338.9ZM350.1 335.4L347.4 338L346.4 335.4ZM322.8 339.9L319.2 340.2L320 337.6ZM331 340.6L327.4 339.8L328.9 337.5ZM319 338L322.5 339.2L320.8 341.3ZM349.4 344.7L346.8 342.2L349.2 341.1ZM362.2 338.4L365.8 339.1L364.3 341.3ZM374.1 344.6L370.5 345.6L370.8 342.9ZM365.2 342.5L364.3 346L362.1 344.5ZM330.7 340.9L327.1 340.6L328.3 338.2ZM328.5 338.2L329.7 334.8L331.7 336.6ZM330 357L326.8 355.2L328.9 353.5ZM339.2 346.9L336.5 344.5L338.9 343.3ZM336.6 344.6L340.1 345.7L338.4 347.8ZM330.5 348.5L329.4 345.1L332.1 345.2ZM353.6 346.4L355.1 349.8L352.4 349.9ZM352.2 346.3L352.7 349.9L350.1 349.3ZM372.4 345.6L374.2 342.5L375.9 344.6ZM369.5 342.2L372.8 343.8L370.9 345.6ZM375.6 352.9L373.2 350.1L375.7 349.2ZM383.1 345.6L379.4 345.3L380.6 342.9ZM379.8 354.6L382.2 351.9L383.4 354.3ZM372.7 349.4L376.4 349.8L375.1 352.2ZM363.4 351.1L367 350.3L366.5 353ZM369.5 351.3L370.6 354.8L367.9 354.6ZM347.2 347.6L343.6 348.3L344.1 345.7ZM353.5 346.4L355 349.8L352.3 349.9ZM359.5 344.9L359.5 348.5L357 347.5ZM351.2 352.7L349 355.6L347.6 353.3ZM333 354.2L336.5 355.3L334.8 357.4ZM343.3 352L339.7 352.3L340.5 349.7ZM346.9 349.5L345.8 346.1L348.4 346.2ZM364 351.1L360.6 349.9L362.3 347.8ZM362.1 357.1L361.6 353.5L364.2 354.2ZM370.1 353.6L373.6 352.5L373.4 355.2ZM371.4 350.9L374.2 353.2L371.9 354.5ZM356.5 335.6L360.1 335.8L359 338.3ZM326.9 355.6L329.4 352.9L330.6 355.3ZM326.4 359.5L329.8 360.8L328 362.8ZM322.2 363L323.8 359.7L325.6 361.7ZM326.1 359.8L329.3 361.6L327.2 363.3ZM333 356.3L332.4 352.7L335 353.3ZM335.7 355.7L335.6 359.3L333.1 358.2ZM358.9 353.8L359.2 357.5L356.6 356.6ZM316.2 365.8L313.1 367.6L312.7 365ZM326.9 351.9L323.4 353.2L323.5 350.5ZM300.2 361.6L302 358.4L303.7 360.5ZM309.3 361.2L312.7 359.8L312.7 362.5ZM302.9 363L300.7 365.9L299.3 363.6ZM316.3 366.1L313.2 368.1L312.7 365.5ZM321.3 359.5L319.7 362.8L317.9 360.9ZM328.8 360.5L325.8 362.6L325.2 360ZM305.4 367.3L303 364.6L305.5 363.6ZM309.6 368.7L311.8 365.8L313.2 368.1ZM331.2 363L331.6 366.6L329 365.9ZM333.9 365.8L333.5 362.2L336.1 362.9ZM339.6 367.4L336 367.4L337 364.9ZM335.4 366.6L336.7 363.2L338.7 365.1ZM343.3 362.3L342.2 365.8L340.1 364.2ZM343.9 365.4L343.6 361.7L346.2 362.5ZM348.9 362.5L351.9 364.5L349.7 366ZM349.6 361.8L353 363.1L351.2 365.1ZM396.4 286.4L392.7 286.5L393.6 284ZM400.5 290.2L396.9 290.6L397.6 288ZM391.6 282.1L395.2 282.6L393.9 285ZM423.5 283.1L425 286.5L422.3 286.6ZM429.1 287.2L425.5 286.8L426.7 284.5ZM421.5 283.4L419.1 280.5L421.7 279.7ZM433.8 303.2L432.4 299.8L435.1 299.8ZM444.3 282.1L443.3 278.5L446 278.8ZM450.9 288.5L447.5 287.2L449.3 285.2ZM445.1 281.1L444.9 284.8L442.4 283.6ZM460.1 281.1L459.2 284.7L457.1 283.1ZM454.4 287.5L454.1 283.9L456.7 284.6ZM451 298.6L450.1 295L452.7 295.4ZM472 282.8L468.6 281.6L470.3 279.5ZM471.2 284.5L467.7 285.3L468.1 282.7ZM464.4 281L467.6 282.8L465.5 284.5ZM402.9 288.7L406.6 288.6L405.6 291.1ZM408.1 308L404.6 307.2L406.1 305ZM413.8 287.4L417.5 287.2L416.6 289.7ZM425 292.1L424.3 288.5L427 289ZM441.4 289.7L443.5 286.7L445 289ZM449.5 291.7L452.9 290.4L452.9 293.1ZM406.5 293.4L410 294.5L408.2 296.6ZM400 294.5L399.5 290.8L402.1 291.5ZM431.4 290.7L435 290L434.5 292.7ZM424.7 297.2L421.1 297.4L421.9 294.8ZM431.2 294.2L429 291.2L431.6 290.5ZM436.3 295.7L434.3 292.7L436.9 292.1ZM450.4 292.4L448 295.1L446.8 292.7ZM445.8 288.3L448.9 290.4L446.6 291.9ZM447 305.4L445 302.3L447.7 301.8ZM456.3 296.4L455.8 300L453.5 298.7ZM452.7 297.4L455.4 294.9L456.4 297.5ZM435.5 287.8L438.3 285.5L439.1 288.1ZM433.6 299.5L433.8 295.9L436.3 297ZM428.7 297.8L425.5 299.5L425.2 296.8ZM400.8 292.9L398.6 295.8L397.2 293.4ZM407.4 302.1L404.4 300L406.7 298.5ZM411.6 296.9L408 297.5L408.6 294.9ZM411.1 300.8L413.9 303.1L411.6 304.5ZM396.1 299.4L393.7 302.2L392.4 299.8ZM390.6 302.3L394.3 302.6L393.1 305ZM396.3 299.8L394.3 302.9L392.8 300.7ZM405.9 304.8L402.4 305.9L402.6 303.2ZM405.8 303.7L409.4 304.5L407.8 306.7ZM447.8 301.5L451.3 300.5L451 303.2ZM448.2 295.2L446 292.2L448.6 291.5ZM446.6 295.5L448.8 298.5L446.2 299.2ZM461.3 295.2L459 292.4L461.5 291.6ZM456.7 292.1L460.4 292.2L459.4 294.7ZM458.7 298.3L455.2 299.2L455.6 296.5ZM447.5 305.4L445.9 302.1L448.6 301.9ZM447.1 303.6L450.7 304.2L449.4 306.5ZM424.9 299.9L422.4 302.6L421.2 300.1ZM419 301.6L415.3 301.6L416.4 299.1ZM420.9 295.4L417.4 296.7L417.5 294ZM410.2 301.6L409.7 298L412.3 298.7ZM411.6 307.7L414.8 309.4L412.7 311.1ZM437.4 303.9L433.8 303.5L435 301.2ZM464.7 302.4L463 299.2L465.7 298.8ZM464.5 309.2L465.3 312.8L462.6 312.3ZM464.9 301.8L468.1 303.5L466 305.3ZM461.7 305.8L458.3 307.1L458.3 304.4ZM438 313.5L435.1 315.8L434.4 313.2ZM419.7 311.4L423.3 311.9L422 314.2ZM443.3 309.6L444.1 306.1L446.4 307.6ZM443.9 306.2L447.5 305.5L447 308.1ZM440.2 309L441.2 312.5L438.5 312.2ZM453.7 309.9L450.3 308.6L452.1 306.6ZM452.9 311.6L449.3 312.3L449.8 309.7ZM453.7 314.5L452.1 317.7L450.3 315.7ZM403.9 314.2L404.8 310.7L407 312.3ZM430.9 313.3L427.3 314.1L427.8 311.4ZM420.6 315.1L423.6 313.1L424.2 315.7ZM419.1 313L419.9 309.4L422.1 310.9ZM427.8 314.5L429.6 311.3L431.3 313.4ZM438.2 314L435.7 316.7L434.5 314.2ZM453 304.4L456.4 305.7L454.6 307.7ZM454.2 316L450.7 317.1L450.9 314.4ZM418 318.6L415.2 316.3L417.6 315ZM297.8 185.5L294.8 187.6L294.2 185ZM296.6 199.2L293.6 197L296 195.6ZM310.7 209.9L308 207.4L310.4 206.2ZM305.4 213.4L304.4 209.9L307.1 210.2ZM281.1 210.8L278.1 208.7L280.3 207.2ZM365.8 140.8L362.8 142.9L362.2 140.3ZM359.9 145.9L356.4 147.2L356.5 144.5ZM362.8 149.2L359.2 149.7L359.8 147.1ZM359 165.2L361.4 162.5L362.6 164.9ZM321.8 142.1L318.5 140.6L320.5 138.7ZM335.7 143.1L332.1 142.8L333.3 140.4ZM329.6 145.9L326 146.5L326.6 143.8ZM334.2 155.4L330.5 155.7L331.3 153.1ZM334.5 113L331 111.9L332.7 109.8ZM385.2 212.8L381.9 214.4L381.7 211.7ZM404.3 212.1L407.9 211.4L407.4 214.1ZM416.3 201.9L419.9 201.8L419 204.4ZM436.9 196.2L433.7 198L433.3 195.4ZM425.7 191.6L428.2 189L429.3 191.4ZM422.6 182.2L421.2 185.6L419.3 183.7ZM443.3 192.3L444.2 188.8L446.4 190.4ZM458.2 183.8L459.6 180.4L461.5 182.3ZM466.5 176.6L468.3 173.4L470 175.5ZM449.9 206L448.3 209.3L446.5 207.2ZM438.5 211.3L435.1 212.6L435.2 209.9ZM440.2 214.3L439.6 217.9L437.3 216.5ZM408.5 224.7L411.9 223.6L411.8 226.3ZM423.1 222.9L423 226.5L420.6 225.4ZM424.7 213.5L427.3 216.1L424.9 217.2ZM418.9 246.4L421.8 244.3L422.5 246.9ZM441.5 236.6L442.8 233.2L444.8 235ZM381.1 228.9L378.4 226.5L380.8 225.3ZM389.2 209.1L388.4 205.5L391.1 205.9ZM401.1 207.4L400.4 203.8L403 204.3ZM422.9 227.3L426.6 227.6L425.4 230ZM361.7 246.1L361.3 249.7L358.9 248.5ZM379.3 245.2L376.7 247.7L375.6 245.2ZM394.2 244.8L397.6 246.1L395.8 248.1ZM362.6 233.2L359.8 235.6L358.9 233.1ZM416.9 141.1L419.7 143.5L417.3 144.7ZM439.1 142.2L439.4 145.8L436.8 145.1Z"/>
</g>
<g id="nodes">
<circle class="c" cx="189.3" cy="93.0" r="2.80" fill="#6b1d81"/>
<circle class="c" cx="206.2" cy="90.5" r="2.80" fill="#e24d66"/>
<circle class="c" cx="222.5" cy="90.0" r="2.80" fill="#feb37b"/>
<circle class="c" cx="244.2" cy="96.3" r="2.80" fill="#fb8c62"/>
<circle class="c" cx="199.5" cy="97.2" r="2.80" fill="#fb8c62"/>
<circle class="c" cx="209.7" cy="99.2" r="3.12" fill="#b5367a"/>
<circle class="c" cx="223.3" cy="97.5" r="2.80" fill="#e24d66"/>
<circle class="c" cx="214.7" cy="101.7" r="2.80" fill="#b5367a"/>
<circle class="c" cx="227.3" cy="103.0" r="2.80" fill="#e24d66"/>
<rect class="s" x="232.5" y="104.8" width="5.4" height="5.4"/>
<circle class="c" cx="190.3" cy="103.7" r="2.80" fill="#3b0f70"/>
<circle class="c" cx="199.2" cy="103.3" r="3.34" fill="#3b0f70"/>
<circle class="c" cx="206.2" cy="104.2" r="2.80" fill="#b5367a"/>
<circle class="c" cx="212.5" cy="105.0" r="2.80" fill="#e24d66"/>
<circle class="c" cx="179.2" cy="107.5" r="2.80" fill="#3b0f70"/>
<circle class="c" cx="185.8" cy="107.5" r="2.80" fill="#fb8c62"/>
<rect class="s" x="192.3" y="107.3" width="5.4" height="5.4"/>
<circle class="c" cx="201.7" cy="107.5" r="2.80" fill="#3b0f70"/>
<rect class="s" x="204.3" y="107.0" width="5.4" height="5.4"/>
<circle class="c" cx="215.8" cy="107.5" r="2.80" fill="#b5367a"/>
<rect class="s" x="221.1" y="107.3" width="5.4" height="5.4"/>
<circle class="c" cx="188.3" cy="112.0" r="4.43" fill="#b5367a"/>
<circle class="c" cx="202.5" cy="113.3" r="2.80" fill="#fb8c62"/>
<circle class="c" cx="212.5" cy="113.0" r="2.80" fill="#b5367a"/>
<circle class="c" cx="223.3" cy="115.0" r="2.80" fill="#3b0f70"/>
<circle class="c" cx="195.0" cy="116.7" r="4.98" fill="#b5367a"/>
<circle class="c" cx="205.0" cy="116.7" r="6.94" fill="#b5367a"/>
<rect class="s" x="213.6" y="114.8" width="5.4" height="5.4"/>
<circle class="c" cx="227.5" cy="118.7" r="2.80" fill="#feb37b"/>
<circle class="c" cx="168.3" cy="117.5" r="2.80" fill="#b5367a"/>
<circle class="c" cx="174.2" cy="118.7" r="2.80" fill="#fb8c62"/>
<circle class="c" cx="179.5" cy="120.3" r="2.80" fill="#b5367a"/>
<circle class="c" cx="185.8" cy="120.0" r="2.80" fill="#e24d66"/>
<circle class="c" cx="193.3" cy="123.3" r="4.98" fill="#b5367a"/>
<circle class="c" cx="199.5" cy="122.5" r="2.80" fill="#b5367a"/>
<circle class="c" cx="205.8" cy="122.2" r="2.80" fill="#3b0f70"/>
<circle class="c" cx="213.3" cy="120.8" r="2.80" fill="#000004"/>
<circle class="c" cx="215.8" cy="124.2" r="2.80" fill="#3b0f70"/>
<circle class="c" cx="224.7" cy="122.2" r="2.80" fill="#fb8c62"/>
<circle class="c" cx="228.3" cy="125.8" r="2.80" fill="#fb8c62"/>
<circle class="c" cx="155.3" cy="124.7" r="2.80" fill="#b5367a"/>
<circle class="c" cx="162.5" cy="125.5" r="2.80" fill="#fb8c62"/>
<circle class="c" cx="171.7" cy="126.3" r="3.89" fill="#b5367a"/>
<circle class="c" cx="179.2" cy="125.0" r="2.80" fill="#b5367a"/>
<circle class="c" cx="179.2" cy="128.8" r="2.80" fill="#fb8c62"/>
<circle class="c" cx="185.8" cy="124.7" r="2.80" fill="#e24d66"/>
<circle class="c" cx="173.3" cy="130.8" r="2.80" fill="#fb8c62"/>
<circle class="c" cx="183.7" cy="131.7" r="3.34" fill="#3b0f70"/>
<rect class="s" x="186.1" y="125.6" width="5.4" height="5.4"/>
<circle class="c" cx="192.5" cy="130.8" r="2.80" fill="#feb37b"/>
<circle class="c" cx="198.0" cy="131.3" r="2.80" fill="#fb8c62"/>
<circle class="c" cx="201.3" cy="128.0" r="2.80" fill="#fb8c62"/>
<rect class="s" x="204.8" y="126.5" width="5.4" height="5.4"/>
<circle class="c" cx="213.7" cy="128.3" r="2.80" fill="#b5367a"/>
<circle class="c" cx="219.5" cy="128.0" r="2.80" fill="#fb8c62"/>
<circle class="c" cx="161.7" cy="135.3" r="2.80" fill="#feb37b"/>
<circle class="c" cx="176.7" cy="133.8" r="2.80" fill="#feb37b"/>
<circle class="c" cx="189.2" cy="134.5" r="2.80" fill="#fb8c62"/>
<rect class="s" x="191.5" y="133.1" width="5.4" height="5.4"/>
<circle class="c" cx="207.0" cy="136.7" r="2.80" fill="#fb8c62"/>
<circle class="c" cx="174.2" cy="142.5" r="2.80" fill="#e24d66"/>
<rect class="s" x="186.0" y="139.0" width="5.4" height="5.4"/>
<circle class="c" cx="202.0" cy="140.8" r="2.80" fill="#6b1d81"/>
<circle class="c" cx="309.5" cy="103.0" r="2.80" fill="#fb8c62"/>
<circle class="c" cx="312.0" cy="108.5" r="2.80" fill="#fb8c62"/>
<circle class="c" cx="323.0" cy="109.3" r="2.80" fill="#fb8c62"/>
<circle class="c" cx="314.2" cy="117.5" r="2.80" fill="#fed395"/>
<circle class="c" cx="337.2" cy="115.2" r="2.80" fill="#952c80"/>
<circle class="c" cx="364.7" cy="111.0" r="2.80" fill="#952c80"/>
<circle class="c" cx="331.7" cy="119.7" r="2.80" fill="#fed395"/>
<circle class="c" cx="318.7" cy="120.8" r="3.89" fill="#f3655c"/>
<circle class="c" cx="328.0" cy="120.2" r="2.80" fill="#3b0f70"/>
<circle class="c" cx="338.3" cy="123.0" r="2.80" fill="#fb8c62"/>
<circle class="c" cx="343.7" cy="121.7" r="2.80" fill="#fb8c62"/>
<circle class="c" cx="349.2" cy="124.2" r="2.80" fill="#fed395"/>
<circle class="c" cx="368.7" cy="121.8" r="3.12" fill="#3b0f70"/>
<rect class="s" x="370.3" y="124.1" width="5.4" height="5.4"/>
<circle class="c" cx="367.8" cy="128.8" r="2.80" fill="#952c80"/>
<circle class="c" cx="303.8" cy="125.0" r="2.80" fill="#952c80"/>
<circle class="c" cx="316.7" cy="129.2" r="2.80" fill="#fb8c62"/>
<circle class="c" cx="318.7" cy="131.7" r="2.80" fill="#fed395"/>
<circle class="c" cx="323.3" cy="128.5" r="2.80" fill="#feb37b"/>
<circle class="c" cx="327.5" cy="127.2" r="2.80" fill="#b5367a"/>
<circle class="c" cx="342.5" cy="128.0" r="2.80" fill="#e24d66"/>
<circle class="c" cx="346.7" cy="128.8" r="2.80" fill="#b5367a"/>
<circle class="c" cx="334.7" cy="127.2" r="4.43" fill="#f3655c"/>
<circle class="c" cx="329.2" cy="132.2" r="2.80" fill="#f3655c"/>
<circle class="c" cx="338.3" cy="133.8" r="2.80" fill="#6b1d81"/>
<circle class="c" cx="324.5" cy="136.7" r="3.34" fill="#f3655c"/>
<circle class="c" cx="334.2" cy="136.8" r="2.80" fill="#f3655c"/>
<circle class="c" cx="341.3" cy="132.2" r="2.80" fill="#b5367a"/>
<circle class="c" cx="348.8" cy="132.7" r="3.34" fill="#b5367a"/>
<circle class="c" cx="355.0" cy="137.3" r="2.80" fill="#fed395"/>
<circle class="c" cx="344.7" cy="140.0" r="5.52" fill="#fed395"/>
<circle class="c" cx="369.2" cy="140.0" r="2.80" fill="#fb8c62"/>
<circle class="c" cx="353.3" cy="143.8" r="2.80" fill="#f3655c"/>
<circle class="c" cx="338.8" cy="144.7" r="2.80" fill="#f3655c"/>
<circle class="c" cx="333.0" cy="146.7" r="2.80" fill="#fb8c62"/>
<circle class="c" cx="324.2" cy="144.7" r="2.80" fill="#e24d66"/>
<circle class="c" cx="363.3" cy="146.0" r="2.80" fill="#fb8c62"/>
<circle class="c" cx="366.2" cy="150.0" r="2.80" fill="#952c80"/>
<circle class="c" cx="376.8" cy="150.0" r="2.80" fill="#f3655c"/>
<circle class="c" cx="349.2" cy="151.0" r="2.80" fill="#fb8c62"/>
<circle class="c" cx="343.3" cy="153.0" r="2.80" fill="#fb8c62"/>
<circle class="c" cx="335.8" cy="160.5" r="2.80" fill="#f3655c"/>
<circle class="c" cx="337.5" cy="156.3" r="2.80" fill="#952c80"/>
<circle class="c" cx="353.8" cy="158.5" r="2.80" fill="#952c80"/>
<circle class="c" cx="347.2" cy="156.8" r="3.34" fill="#6b1d81"/>
<circle class="c" cx="367.0" cy="163.8" r="2.80" fill="#6b1d81"/>
<circle class="c" cx="363.0" cy="166.3" r="2.80" fill="#f3655c"/>
<circle class="c" cx="350.8" cy="165.0" r="3.12" fill="#000004"/>
<circle class="c" cx="355.8" cy="166.7" r="2.80" fill="#fed395"/>
<circle class="c" cx="345.8" cy="170.5" r="2.80" fill="#f3655c"/>
<circle class="c" cx="336.7" cy="173.3" r="2.80" fill="#fb8c62"/>
<circle class="c" cx="358.8" cy="170.5" r="2.80" fill="#3b0f70"/>
<circle class="c" cx="357.0" cy="174.7" r="2.80" fill="#3b0f70"/>
<circle class="c" cx="362.8" cy="176.0" r="2.80" fill="#952c80"/>
<circle class="c" cx="339.2" cy="183.3" r="2.80" fill="#e24d66"/>
<circle class="c" cx="301.2" cy="184.7" r="2.80" fill="#fb8c62"/>
<circle class="c" cx="298.3" cy="202.2" r="2.80" fill="#fb8c62"/>
<circle class="c" cx="312.2" cy="213.0" r="2.80" fill="#e24d66"/>
<circle class="c" cx="305.0" cy="216.8" r="2.80" fill="#f3655c"/>
<circle class="c" cx="388.7" cy="104.7" r="2.80" fill="#fb8c62"/>
<circle class="c" cx="402.2" cy="100.0" r="2.80" fill="#fb8c62"/>
<circle class="c" cx="408.0" cy="100.3" r="2.80" fill="#fb8c62"/>
<circle class="c" cx="423.7" cy="101.7" r="2.80" fill="#fb8c62"/>
<circle class="c" cx="403.8" cy="106.3" r="2.80" fill="#f3655c"/>
<circle class="c" cx="423.0" cy="108.3" r="2.80" fill="#f3655c"/>
<circle class="c" cx="410.8" cy="105.5" r="3.89" fill="#feb37b"/>
<circle class="c" cx="427.8" cy="106.7" r="2.80" fill="#952c80"/>
<circle class="c" cx="405.3" cy="113.7" r="2.80" fill="#fb8c62"/>
<circle class="c" cx="413.3" cy="111.3" r="2.80" fill="#feb37b"/>
<circle class="c" cx="419.2" cy="109.7" r="3.34" fill="#fb8c62"/>
<rect class="s" x="429.8" y="110.3" width="5.4" height="5.4"/>
<circle class="c" cx="443.0" cy="114.7" r="2.80" fill="#1b1044"/>
<circle class="c" cx="434.2" cy="116.3" r="2.80" fill="#f3655c"/>
<circle class="c" cx="411.7" cy="117.8" r="2.80" fill="#e24d66"/>
<circle class="c" cx="398.0" cy="119.5" r="2.80" fill="#fb8c62"/>
<circle class="c" cx="396.2" cy="124.7" r="2.80" fill="#fb8c62"/>
<circle class="c" cx="410.0" cy="123.7" r="4.43" fill="#fb8c62"/>
<circle class="c" cx="439.7" cy="120.3" r="2.80" fill="#feb37b"/>
<circle class="c" cx="449.7" cy="121.7" r="2.80" fill="#feb37b"/>
<rect class="s" x="455.3" y="120.6" width="5.4" height="5.4"/>
<circle class="c" cx="435.0" cy="124.2" r="2.80" fill="#feb37b"/>
<circle class="c" cx="423.7" cy="120.8" r="7.37" fill="#e24d66"/>
<circle class="c" cx="438.3" cy="128.0" r="2.80" fill="#fb8c62"/>
<circle class="c" cx="429.2" cy="127.5" r="3.34" fill="#952c80"/>
<circle class="c" cx="450.8" cy="128.0" r="2.80" fill="#f3655c"/>
<circle class="c" cx="444.2" cy="130.0" r="3.67" fill="#e24d66"/>
<circle class="c" cx="427.5" cy="130.8" r="2.80" fill="#fed395"/>
<circle class="c" cx="433.7" cy="130.8" r="3.34" fill="#fb8c62"/>
<rect class="s" x="406.0" y="127.0" width="5.4" height="5.4"/>
<circle class="c" cx="420.0" cy="133.3" r="2.80" fill="#f3655c"/>
<rect class="s" x="413.1" y="128.1" width="6.5" height="6.5"/>
<rect class="s" x="421.5" y="130.6" width="5.4" height="5.4"/>
<rect class="s" x="403.6" y="134.0" width="5.4" height="5.4"/>
<circle class="c" cx="415.3" cy="138.0" r="2.80" fill="#f3655c"/>
<circle class="c" cx="404.7" cy="140.0" r="2.80" fill="#fed395"/>
<rect class="s" x="408.5" y="139.0" width="5.4" height="5.4"/>
<circle class="c" cx="440.0" cy="138.8" r="2.80" fill="#fed395"/>
<circle class="c" cx="446.7" cy="135.0" r="2.80" fill="#3b0f70"/>
<circle class="c" cx="451.3" cy="138.3" r="2.80" fill="#952c80"/>
<circle class="c" cx="460.0" cy="143.3" r="2.80" fill="#e24d66"/>
<circle class="c" cx="430.8" cy="147.5" r="2.80" fill="#1b1044"/>
<circle class="c" cx="125.3" cy="174.7" r="2.80" fill="#fb8c62"/>
<rect class="s" x="132.8" y="174.0" width="5.4" height="5.4"/>
<rect class="s" x="109.8" y="177.8" width="5.4" height="5.4"/>
<circle class="c" cx="117.8" cy="180.8" r="2.80" fill="#b5367a"/>
<circle class="c" cx="123.0" cy="179.2" r="3.12" fill="#f3655c"/>
<circle class="c" cx="125.8" cy="181.7" r="3.12" fill="#fb8c62"/>
<circle class="c" cx="107.5" cy="184.2" r="2.80" fill="#1b1044"/>
<circle class="c" cx="115.0" cy="186.3" r="2.80" fill="#fb8c62"/>
<circle class="c" cx="130.8" cy="184.2" r="2.80" fill="#fb8c62"/>
<rect class="s" x="132.3" y="183.1" width="5.4" height="5.4"/>
<circle class="c" cx="140.5" cy="186.7" r="2.80" fill="#feb37b"/>
<circle class="c" cx="125.8" cy="187.5" r="2.80" fill="#952c80"/>
<rect class="s" x="117.6" y="185.6" width="5.4" height="5.4"/>
<rect class="s" x="103.6" y="186.0" width="5.4" height="5.4"/>
<rect class="s" x="126.5" y="187.8" width="5.4" height="5.4"/>
<circle class="c" cx="135.0" cy="189.7" r="2.80" fill="#fb8c62"/>
<circle class="c" cx="140.0" cy="190.0" r="2.80" fill="#fb8c62"/>
<rect class="s" x="97.6" y="189.5" width="5.4" height="5.4"/>
<circle class="c" cx="106.7" cy="193.3" r="2.80" fill="#fed395"/>
<circle class="c" cx="112.0" cy="192.8" r="2.80" fill="#fb8c62"/>
<circle class="c" cx="138.0" cy="193.0" r="2.80" fill="#feb37b"/>
<circle class="c" cx="143.0" cy="197.0" r="3.34" fill="#e24d66"/>
<circle class="c" cx="135.0" cy="198.3" r="2.80" fill="#fed395"/>
<circle class="c" cx="105.8" cy="199.5" r="2.80" fill="#fb8c62"/>
<circle class="c" cx="120.8" cy="200.0" r="2.80" fill="#952c80"/>
<circle class="c" cx="119.2" cy="195.3" r="4.98" fill="#fb8c62"/>
<circle class="c" cx="128.0" cy="197.5" r="4.98" fill="#f3655c"/>
<rect class="s" x="107.6" y="199.0" width="5.4" height="5.4"/>
<circle class="c" cx="99.2" cy="203.7" r="2.80" fill="#fb8c62"/>
<rect class="s" x="114.0" y="201.5" width="5.4" height="5.4"/>
<circle class="c" cx="126.7" cy="203.8" r="2.80" fill="#fb8c62"/>
<circle class="c" cx="142.5" cy="205.0" r="2.80" fill="#fb8c62"/>
<circle class="c" cx="150.0" cy="204.2" r="2.80" fill="#fb8c62"/>
<circle class="c" cx="132.8" cy="203.3" r="3.12" fill="#000004"/>
<circle class="c" cx="108.3" cy="208.3" r="2.80" fill="#f3655c"/>
<rect class="s" x="110.6" y="205.3" width="5.4" height="5.4"/>
<circle class="c" cx="121.7" cy="208.3" r="2.80" fill="#fb8c62"/>
<circle class="c" cx="140.8" cy="208.3" r="2.80" fill="#952c80"/>
<circle class="c" cx="135.5" cy="208.7" r="2.80" fill="#fb8c62"/>
<circle class="c" cx="128.8" cy="209.7" r="3.34" fill="#f3655c"/>
<circle class="c" cx="160.0" cy="208.8" r="2.80" fill="#fb8c62"/>
<circle class="c" cx="120.5" cy="212.2" r="2.80" fill="#fb8c62"/>
<circle class="c" cx="131.7" cy="216.3" r="2.80" fill="#fed395"/>
<circle class="c" cx="157.5" cy="214.7" r="2.80" fill="#feb37b"/>
<circle class="c" cx="147.0" cy="217.5" r="2.80" fill="#fed395"/>
<circle class="c" cx="152.0" cy="220.3" r="2.80" fill="#fb8c62"/>
<circle class="c" cx="108.3" cy="218.8" r="2.80" fill="#fb8c62"/>
<circle class="c" cx="103.3" cy="226.2" r="2.80" fill="#feb37b"/>
<circle class="c" cx="108.7" cy="229.2" r="2.80" fill="#feb37b"/>
<circle class="c" cx="242.7" cy="178.2" r="4.43" fill="#f3655c"/>
<circle class="c" cx="244.3" cy="193.3" r="3.89" fill="#f3655c"/>
<circle class="c" cx="259.3" cy="194.3" r="4.98" fill="#f3655c"/>
<circle class="c" cx="259.3" cy="179.8" r="3.89" fill="#fb8c62"/>
<circle class="c" cx="264.7" cy="184.0" r="3.89" fill="#f3655c"/>
<circle class="c" cx="273.3" cy="142.0" r="2.80" fill="#f3655c"/>
<circle class="c" cx="273.3" cy="150.3" r="2.80" fill="#e24d66"/>
<circle class="c" cx="269.2" cy="160.5" r="3.34" fill="#952c80"/>
<rect class="s" x="246.1" y="156.8" width="5.4" height="5.4"/>
<circle class="c" cx="258.0" cy="162.8" r="2.80" fill="#fb8c62"/>
<circle class="c" cx="253.3" cy="167.5" r="2.80" fill="#fb8c62"/>
<rect class="s" x="232.0" y="167.3" width="5.4" height="5.4"/>
<rect class="s" x="227.3" y="171.5" width="5.4" height="5.4"/>
<rect class="s" x="224.0" y="174.8" width="5.4" height="5.4"/>
<circle class="c" cx="240.3" cy="172.5" r="2.80" fill="#952c80"/>
<circle class="c" cx="246.7" cy="172.0" r="2.80" fill="#952c80"/>
<circle class="c" cx="252.5" cy="172.5" r="2.80" fill="#fb8c62"/>
<circle class="c" cx="272.5" cy="168.3" r="2.80" fill="#fb8c62"/>
<circle class="c" cx="276.2" cy="171.7" r="2.80" fill="#1b1044"/>
<circle class="c" cx="281.7" cy="170.8" r="2.80" fill="#952c80"/>
<circle class="c" cx="287.0" cy="172.5" r="2.80" fill="#fb8c62"/>
<circle class="c" cx="262.5" cy="173.3" r="2.80" fill="#feb37b"/>
<circle class="c" cx="266.3" cy="175.5" r="3.34" fill="#fb8c62"/>
<circle class="c" cx="286.3" cy="177.0" r="2.80" fill="#f3655c"/>
<circle class="c" cx="234.2" cy="179.5" r="2.80" fill="#952c80"/>
<circle class="c" cx="245.0" cy="176.3" r="2.80" fill="#952c80"/>
<circle class="c" cx="239.2" cy="177.0" r="3.45" fill="#1b1044"/>
<circle class="c" cx="259.2" cy="177.5" r="2.80" fill="#f3655c"/>
<circle class="c" cx="252.5" cy="179.2" r="4.76" fill="#e24d66"/>
<circle class="c" cx="258.3" cy="181.7" r="3.34" fill="#feb37b"/>
<circle class="c" cx="273.8" cy="180.0" r="4.54" fill="#e24d66"/>
<circle class="c" cx="282.8" cy="181.7" r="2.80" fill="#952c80"/>
<circle class="c" cx="221.7" cy="183.7" r="2.80" fill="#fb8c62"/>
<circle class="c" cx="233.0" cy="185.3" r="2.80" fill="#fed395"/>
<circle class="c" cx="238.7" cy="185.0" r="2.80" fill="#3b0f70"/>
<rect class="s" x="240.3" y="182.0" width="5.4" height="5.4"/>
<circle class="c" cx="263.3" cy="184.2" r="2.80" fill="#e24d66"/>
<circle class="c" cx="267.5" cy="182.5" r="2.80" fill="#fb8c62"/>
<circle class="c" cx="238.7" cy="188.3" r="2.80" fill="#f3655c"/>
<circle class="c" cx="244.2" cy="193.3" r="2.80" fill="#f3655c"/>
<circle class="c" cx="260.0" cy="194.2" r="2.80" fill="#3b0f70"/>
<circle class="c" cx="254.2" cy="188.3" r="7.16" fill="#f3655c"/>
<circle class="c" cx="254.2" cy="188.3" r="3.89" fill="#e24d66"/>
<circle class="c" cx="248.3" cy="189.7" r="3.34" fill="#b5367a"/>
<circle class="c" cx="262.5" cy="190.0" r="3.34" fill="#f3655c"/>
<circle class="c" cx="271.7" cy="187.5" r="2.80" fill="#952c80"/>
<circle class="c" cx="278.8" cy="188.3" r="2.80" fill="#fb8c62"/>
<circle class="c" cx="283.3" cy="187.2" r="2.80" fill="#fb8c62"/>
<circle class="c" cx="216.3" cy="192.2" r="3.12" fill="#3b0f70"/>
<circle class="c" cx="226.7" cy="190.8" r="2.80" fill="#952c80"/>
<circle class="c" cx="230.5" cy="194.2" r="3.34" fill="#952c80"/>
<circle class="c" cx="206.7" cy="199.2" r="2.80" fill="#fb8c62"/>
<circle class="c" cx="233.8" cy="197.5" r="2.80" fill="#952c80"/>
<circle class="c" cx="244.2" cy="197.2" r="2.80" fill="#fb8c62"/>
<rect class="s" x="249.8" y="195.1" width="5.4" height="5.4"/>
<circle class="c" cx="265.8" cy="193.3" r="2.80" fill="#fb8c62"/>
<circle class="c" cx="270.8" cy="193.7" r="2.80" fill="#fb8c62"/>
<circle class="c" cx="264.2" cy="198.3" r="2.80" fill="#feb37b"/>
<circle class="c" cx="268.3" cy="197.5" r="3.89" fill="#f3655c"/>
<circle class="c" cx="244.2" cy="201.7" r="2.80" fill="#fed395"/>
<circle class="c" cx="252.8" cy="202.8" r="2.80" fill="#feb37b"/>
<circle class="c" cx="258.3" cy="202.5" r="2.80" fill="#fb8c62"/>
<rect class="s" x="264.5" y="201.8" width="5.4" height="5.4"/>
<circle class="c" cx="225.0" cy="205.5" r="2.80" fill="#952c80"/>
<circle class="c" cx="231.2" cy="208.0" r="2.80" fill="#952c80"/>
<circle class="c" cx="236.7" cy="205.5" r="3.34" fill="#6b1d81"/>
<circle class="c" cx="242.5" cy="207.5" r="2.80" fill="#952c80"/>
<circle class="c" cx="227.5" cy="212.8" r="2.80" fill="#f3655c"/>
<circle class="c" cx="252.5" cy="212.8" r="2.80" fill="#b5367a"/>
<circle class="c" cx="283.0" cy="213.7" r="2.80" fill="#feb37b"/>
<circle class="c" cx="220.3" cy="218.7" r="3.12" fill="#1b1044"/>
<circle class="c" cx="225.0" cy="221.7" r="2.80" fill="#f3655c"/>
<circle class="c" cx="415.8" cy="187.5" r="2.80" fill="#6b1d81"/>
<rect class="s" x="405.6" y="188.6" width="5.4" height="5.4"/>
<rect class="s" x="419.8" y="190.3" width="5.4" height="5.4"/>
<circle class="c" cx="414.7" cy="194.7" r="2.80" fill="#3b0f70"/>
<circle class="c" cx="435.5" cy="188.7" r="2.80" fill="#fb8c62"/>
<circle class="c" cx="449.7" cy="187.0" r="2.80" fill="#e24d66"/>
<circle class="c" cx="455.8" cy="186.3" r="2.80" fill="#fb8c62"/>
<circle class="c" cx="440.8" cy="195.5" r="3.34" fill="#3b0f70"/>
<circle class="c" cx="406.3" cy="199.7" r="3.34" fill="#feb37b"/>
<circle class="c" cx="412.5" cy="200.5" r="3.34" fill="#fb8c62"/>
<circle class="c" cx="452.5" cy="203.7" r="2.80" fill="#6b1d81"/>
<circle class="c" cx="373.3" cy="206.3" r="2.80" fill="#fb8c62"/>
<circle class="c" cx="391.2" cy="205.8" r="2.80" fill="#952c80"/>
<circle class="c" cx="398.3" cy="206.7" r="2.80" fill="#f3655c"/>
<circle class="c" cx="400.3" cy="211.3" r="3.34" fill="#b5367a"/>
<circle class="c" cx="388.7" cy="212.5" r="2.80" fill="#f3655c"/>
<circle class="c" cx="423.3" cy="210.3" r="2.80" fill="#952c80"/>
<circle class="c" cx="442.0" cy="211.3" r="2.80" fill="#fb8c62"/>
<circle class="c" cx="437.2" cy="216.7" r="2.80" fill="#1b1044"/>
<circle class="c" cx="424.5" cy="219.7" r="2.80" fill="#952c80"/>
<circle class="c" cx="380.5" cy="225.0" r="2.80" fill="#952c80"/>
<circle class="c" cx="388.7" cy="224.2" r="2.80" fill="#952c80"/>
<circle class="c" cx="395.3" cy="225.3" r="2.80" fill="#fb8c62"/>
<circle class="c" cx="405.0" cy="224.5" r="2.80" fill="#b5367a"/>
<circle class="c" cx="418.8" cy="225.3" r="3.89" fill="#3b0f70"/>
<circle class="c" cx="371.3" cy="229.2" r="2.80" fill="#fb8c62"/>
<circle class="c" cx="365.8" cy="232.0" r="2.80" fill="#6b1d81"/>
<circle class="c" cx="390.5" cy="229.7" r="2.80" fill="#6b1d81"/>
<circle class="c" cx="400.0" cy="228.0" r="2.80" fill="#b5367a"/>
<circle class="c" cx="356.7" cy="235.3" r="2.80" fill="#6b1d81"/>
<circle class="c" cx="370.0" cy="235.0" r="2.80" fill="#6b1d81"/>
<circle class="c" cx="375.5" cy="235.3" r="3.34" fill="#1b1044"/>
<circle class="c" cx="383.8" cy="234.5" r="5.52" fill="#3b0f70"/>
<circle class="c" cx="400.0" cy="233.0" r="2.80" fill="#f3655c"/>
<circle class="c" cx="406.2" cy="232.5" r="3.34" fill="#f3655c"/>
<circle class="c" cx="430.0" cy="234.5" r="2.80" fill="#952c80"/>
<circle class="c" cx="425.8" cy="233.0" r="3.89" fill="#f3655c"/>
<circle class="c" cx="445.3" cy="234.7" r="2.80" fill="#feb37b"/>
<rect class="s" x="409.5" y="233.6" width="5.4" height="5.4"/>
<rect class="s" x="404.8" y="235.6" width="5.4" height="5.4"/>
<circle class="c" cx="416.3" cy="235.8" r="2.80" fill="#e24d66"/>
<circle class="c" cx="390.0" cy="238.7" r="2.80" fill="#952c80"/>
<circle class="c" cx="395.0" cy="240.0" r="2.80" fill="#f3655c"/>
<circle class="c" cx="399.7" cy="238.0" r="2.80" fill="#b5367a"/>
<circle class="c" cx="373.3" cy="239.2" r="2.80" fill="#b5367a"/>
<circle class="c" cx="426.3" cy="238.7" r="2.80" fill="#b5367a"/>
<circle class="c" cx="432.8" cy="239.5" r="2.80" fill="#fed395"/>
<circle class="c" cx="439.2" cy="239.2" r="2.80" fill="#fb8c62"/>
<circle class="c" cx="447.2" cy="241.2" r="2.80" fill="#6b1d81"/>
<circle class="c" cx="416.2" cy="240.0" r="3.34" fill="#e24d66"/>
<circle class="c" cx="402.5" cy="241.7" r="2.80" fill="#b5367a"/>
<circle class="c" cx="411.2" cy="243.3" r="2.80" fill="#b5367a"/>
<circle class="c" cx="363.3" cy="243.0" r="2.80" fill="#f3655c"/>
<circle class="c" cx="369.7" cy="243.8" r="2.80" fill="#b5367a"/>
<circle class="c" cx="377.0" cy="242.5" r="2.80" fill="#952c80"/>
<circle class="c" cx="382.5" cy="243.8" r="2.80" fill="#fed395"/>
<circle class="c" cx="391.7" cy="242.5" r="2.80" fill="#b5367a"/>
<circle class="c" cx="397.2" cy="250.0" r="3.12" fill="#3b0f70"/>
<rect class="s" x="411.8" y="244.3" width="6.5" height="6.5"/>
<circle class="c" cx="433.8" cy="248.0" r="2.80" fill="#fb8c62"/>
<circle class="c" cx="355.3" cy="251.2" r="3.12" fill="#1b1044"/>
<circle class="c" cx="375.8" cy="252.8" r="2.80" fill="#952c80"/>
<circle class="c" cx="425.0" cy="179.7" r="2.80" fill="#3b0f70"/>
<circle class="c" cx="463.8" cy="178.8" r="2.80" fill="#f3655c"/>
<circle class="c" cx="469.5" cy="174.2" r="2.80" fill="#6b1d81"/>
<circle class="c" cx="480.0" cy="165.8" r="2.80" fill="#952c80"/>
<rect class="s" x="484.0" y="160.3" width="5.4" height="5.4"/>
<rect class="s" x="480.3" y="168.6" width="5.4" height="5.4"/>
<circle class="c" cx="495.8" cy="175.3" r="2.80" fill="#fed395"/>
<circle class="c" cx="488.1" cy="200.8" r="2.80" fill="#b5367a"/>
<circle class="c" cx="492.3" cy="204.5" r="2.80" fill="#fed395"/>
<circle class="c" cx="505.0" cy="204.5" r="2.80" fill="#fed395"/>
<rect class="s" x="496.0" y="199.5" width="5.4" height="5.4"/>
<circle class="c" cx="501.7" cy="215.2" r="6.07" fill="#f3655c"/>
<circle class="c" cx="499.6" cy="211.6" r="4.98" fill="#e24d66"/>
<circle class="c" cx="498.0" cy="209.5" r="3.34" fill="#b5367a"/>
<rect class="s" x="486.2" y="207.3" width="5.4" height="5.4"/>
<circle class="c" cx="484.2" cy="213.6" r="3.12" fill="#feb37b"/>
<circle class="c" cx="508.1" cy="213.1" r="2.80" fill="#fed395"/>
<circle class="c" cx="509.0" cy="217.6" r="2.80" fill="#fed395"/>
<circle class="c" cx="485.0" cy="218.9" r="2.80" fill="#fb8c62"/>
<circle class="c" cx="483.4" cy="223.0" r="2.80" fill="#fb8c62"/>
<circle class="c" cx="505.8" cy="224.6" r="2.80" fill="#feb37b"/>
<rect class="s" x="487.5" y="212.7" width="5.4" height="5.4"/>
<rect class="s" x="490.4" y="212.5" width="5.4" height="5.4"/>
<rect class="s" x="488.0" y="216.9" width="6.5" height="6.5"/>
<rect class="s" x="502.9" y="218.5" width="5.4" height="5.4"/>
<circle class="c" cx="477.9" cy="223.8" r="2.80" fill="#952c80"/>
<rect class="s" x="491.7" y="223.7" width="5.4" height="5.4"/>
<rect class="s" x="499.3" y="224.0" width="5.4" height="5.4"/>
<circle class="c" cx="485.3" cy="229.3" r="3.01" fill="#000004"/>
<circle class="c" cx="478.8" cy="230.5" r="2.80" fill="#952c80"/>
<rect class="s" x="492.7" y="230.7" width="5.4" height="5.4"/>
<rect class="s" x="97.0" y="246.1" width="5.4" height="5.4"/>
<rect class="s" x="109.8" y="247.5" width="5.4" height="5.4"/>
<rect class="s" x="122.8" y="244.5" width="5.4" height="5.4"/>
<circle class="c" cx="145.5" cy="244.3" r="2.80" fill="#fed395"/>
<rect class="s" x="161.6" y="239.0" width="5.4" height="5.4"/>
<circle class="c" cx="178.0" cy="245.2" r="2.80" fill="#b5367a"/>
<rect class="s" x="185.8" y="237.0" width="5.4" height="5.4"/>
<circle class="c" cx="196.3" cy="250.0" r="2.80" fill="#b5367a"/>
<circle class="c" cx="102.7" cy="258.5" r="2.80" fill="#fb8c62"/>
<rect class="s" x="137.0" y="258.6" width="5.4" height="5.4"/>
<circle class="c" cx="153.3" cy="269.7" r="2.80" fill="#fb8c62"/>
<rect class="s" x="126.6" y="270.6" width="5.4" height="5.4"/>
<circle class="c" cx="147.5" cy="275.5" r="2.80" fill="#f3655c"/>
<rect class="s" x="135.8" y="274.3" width="5.4" height="5.4"/>
<circle class="c" cx="154.3" cy="278.0" r="2.80" fill="#f3655c"/>
<circle class="c" cx="158.8" cy="276.7" r="2.80" fill="#b5367a"/>
<rect class="s" x="162.0" y="277.0" width="5.4" height="5.4"/>
<circle class="c" cx="133.0" cy="281.7" r="2.80" fill="#b5367a"/>
<circle class="c" cx="172.7" cy="282.5" r="2.80" fill="#b5367a"/>
<rect class="s" x="177.8" y="280.6" width="5.4" height="5.4"/>
<rect class="s" x="145.6" y="281.5" width="5.4" height="5.4"/>
<rect class="s" x="157.0" y="280.6" width="5.4" height="5.4"/>
<circle class="c" cx="153.0" cy="283.3" r="2.80" fill="#feb37b"/>
<circle class="c" cx="157.2" cy="286.2" r="3.34" fill="#feb37b"/>
<circle class="c" cx="140.8" cy="285.8" r="2.80" fill="#fb8c62"/>
<circle class="c" cx="136.8" cy="287.8" r="2.80" fill="#feb37b"/>
<rect class="s" x="164.0" y="284.0" width="5.4" height="5.4"/>
<circle class="c" cx="133.0" cy="292.0" r="2.80" fill="#fb8c62"/>
<circle class="c" cx="141.3" cy="292.0" r="2.80" fill="#fb8c62"/>
<circle class="c" cx="175.5" cy="299.2" r="4.54" fill="#f3655c"/>
<circle class="c" cx="171.7" cy="288.3" r="2.80" fill="#fb8c62"/>
<circle class="c" cx="156.0" cy="293.0" r="4.43" fill="#b5367a"/>
<circle class="c" cx="146.8" cy="293.0" r="3.23" fill="#000004"/>
<circle class="c" cx="165.5" cy="292.0" r="4.10" fill="#3b0f70"/>
<circle class="c" cx="174.3" cy="290.8" r="2.80" fill="#3b0f70"/>
<circle class="c" cx="171.7" cy="294.2" r="2.80" fill="#fb8c62"/>
<rect class="s" x="175.3" y="291.5" width="5.4" height="5.4"/>
<circle class="c" cx="183.8" cy="292.0" r="2.80" fill="#fb8c62"/>
<rect class="s" x="185.3" y="291.5" width="5.4" height="5.4"/>
<circle class="c" cx="202.7" cy="293.3" r="2.80" fill="#fb8c62"/>
<circle class="c" cx="136.8" cy="296.7" r="2.80" fill="#f3655c"/>
<circle class="c" cx="161.8" cy="295.5" r="2.80" fill="#fb8c62"/>
<circle class="c" cx="143.8" cy="298.7" r="2.80" fill="#3b0f70"/>
<circle class="c" cx="148.8" cy="299.2" r="2.80" fill="#3b0f70"/>
<circle class="c" cx="164.7" cy="299.7" r="2.80" fill="#3b0f70"/>
<circle class="c" cx="132.7" cy="300.5" r="2.80" fill="#f3655c"/>
<rect class="s" x="151.1" y="298.1" width="5.4" height="5.4"/>
<circle class="c" cx="159.7" cy="300.8" r="2.80" fill="#fb8c62"/>
<circle class="c" cx="187.2" cy="298.7" r="2.80" fill="#f3655c"/>
<circle class="c" cx="193.8" cy="298.0" r="2.80" fill="#feb37b"/>
<circle class="c" cx="168.8" cy="302.5" r="4.54" fill="#e24d66"/>
<circle class="c" cx="174.7" cy="303.3" r="2.80" fill="#b5367a"/>
<circle class="c" cx="145.8" cy="303.3" r="2.80" fill="#952c80"/>
<rect class="s" x="178.6" y="301.0" width="5.4" height="5.4"/>
<circle class="c" cx="152.2" cy="305.8" r="2.80" fill="#feb37b"/>
<circle class="c" cx="190.0" cy="306.2" r="2.80" fill="#f3655c"/>
<circle class="c" cx="146.8" cy="309.2" r="2.80" fill="#e24d66"/>
<circle class="c" cx="161.3" cy="309.2" r="2.80" fill="#fb8c62"/>
<circle class="c" cx="166.8" cy="311.2" r="3.34" fill="#fb8c62"/>
<circle class="c" cx="173.3" cy="310.8" r="2.80" fill="#feb37b"/>
<rect class="s" x="177.0" y="308.1" width="5.4" height="5.4"/>
<circle class="c" cx="158.8" cy="312.8" r="2.80" fill="#f3655c"/>
<circle class="c" cx="140.2" cy="317.5" r="2.80" fill="#fb8c62"/>
<circle class="c" cx="151.8" cy="315.0" r="2.80" fill="#fb8c62"/>
<circle class="c" cx="176.3" cy="316.7" r="2.80" fill="#fb8c62"/>
<circle class="c" cx="161.0" cy="318.8" r="2.80" fill="#fb8c62"/>
<rect class="s" x="165.6" y="315.1" width="6.5" height="6.5"/>
<circle class="c" cx="193.0" cy="322.5" r="2.80" fill="#fb8c62"/>
<rect class="s" x="180.8" y="327.6" width="5.4" height="5.4"/>
<circle class="c" cx="211.2" cy="248.3" r="2.80" fill="#3b0f70"/>
<circle class="c" cx="213.0" cy="258.3" r="2.80" fill="#feb37b"/>
<circle class="c" cx="225.8" cy="264.7" r="2.80" fill="#fb8c62"/>
<rect class="s" x="228.1" y="250.6" width="5.4" height="5.4"/>
<rect class="s" x="247.8" y="251.0" width="5.4" height="5.4"/>
<rect class="s" x="262.6" y="254.5" width="5.4" height="5.4"/>
<rect class="s" x="277.0" y="249.8" width="5.4" height="5.4"/>
<rect class="s" x="292.6" y="251.5" width="5.4" height="5.4"/>
<rect class="s" x="306.8" y="246.5" width="5.4" height="5.4"/>
<rect class="s" x="241.1" y="260.3" width="5.4" height="5.4"/>
<rect class="s" x="232.8" y="271.0" width="5.4" height="5.4"/>
<rect class="s" x="250.1" y="268.6" width="5.4" height="5.4"/>
<rect class="s" x="266.8" y="265.3" width="5.4" height="5.4"/>
<circle class="c" cx="285.0" cy="264.7" r="2.80" fill="#000004"/>
<circle class="c" cx="297.8" cy="271.3" r="2.80" fill="#fed395"/>
<circle class="c" cx="308.0" cy="263.3" r="2.80" fill="#f3655c"/>
<circle class="c" cx="321.7" cy="259.7" r="2.80" fill="#952c80"/>
<circle class="c" cx="331.2" cy="270.8" r="2.80" fill="#3b0f70"/>
<circle class="c" cx="314.2" cy="275.0" r="2.80" fill="#fb8c62"/>
<circle class="c" cx="326.3" cy="282.2" r="2.80" fill="#feb37b"/>
<circle class="c" cx="340.3" cy="283.8" r="2.80" fill="#fb8c62"/>
<rect class="s" x="264.6" y="286.8" width="5.4" height="5.4"/>
<rect class="s" x="273.1" y="286.8" width="5.4" height="5.4"/>
<circle class="c" cx="284.2" cy="289.5" r="3.01" fill="#000004"/>
<rect class="s" x="235.5" y="299.8" width="5.4" height="5.4"/>
<rect class="s" x="245.6" y="300.1" width="5.4" height="5.4"/>
<rect class="s" x="271.3" y="298.4" width="6.5" height="6.5"/>
<rect class="s" x="286.3" y="301.1" width="5.4" height="5.4"/>
<rect class="s" x="303.5" y="298.6" width="5.4" height="5.4"/>
<rect class="s" x="318.5" y="300.1" width="5.4" height="5.4"/>
<rect class="s" x="309.8" y="306.5" width="5.4" height="5.4"/>
<rect class="s" x="264.6" y="303.5" width="5.4" height="5.4"/>
<rect class="s" x="257.3" y="306.5" width="5.4" height="5.4"/>
<rect class="s" x="270.1" y="308.1" width="5.4" height="5.4"/>
<rect class="s" x="277.1" y="307.0" width="5.4" height="5.4"/>
<rect class="s" x="286.8" y="306.5" width="5.4" height="5.4"/>
<circle class="c" cx="256.5" cy="315.8" r="3.34" fill="#b5367a"/>
<rect class="s" x="247.1" y="310.1" width="6.5" height="6.5"/>
<circle class="c" cx="279.8" cy="315.8" r="2.80" fill="#fed395"/>
<rect class="s" x="284.0" y="312.3" width="5.4" height="5.4"/>
<rect class="s" x="292.1" y="312.3" width="5.4" height="5.4"/>
<rect class="s" x="298.0" y="316.1" width="5.4" height="5.4"/>
<circle class="c" cx="235.3" cy="319.5" r="2.80" fill="#6b1d81"/>
<rect class="s" x="244.8" y="317.8" width="5.4" height="5.4"/>
<rect class="s" x="251.8" y="317.8" width="5.4" height="5.4"/>
<circle class="c" cx="260.7" cy="322.2" r="2.80" fill="#fed395"/>
<circle class="c" cx="272.8" cy="322.5" r="2.80" fill="#fb8c62"/>
<rect class="s" x="262.5" y="314.0" width="9.7" height="9.7"/>
<rect class="s" x="237.3" y="322.6" width="5.4" height="5.4"/>
<circle class="c" cx="250.0" cy="325.0" r="2.80" fill="#fed395"/>
<circle class="c" cx="257.0" cy="325.8" r="2.80" fill="#e24d66"/>
<circle class="c" cx="269.5" cy="328.0" r="3.34" fill="#e24d66"/>
<rect class="s" x="274.3" y="324.5" width="5.4" height="5.4"/>
<rect class="s" x="287.1" y="322.0" width="5.4" height="5.4"/>
<rect class="s" x="286.5" y="326.1" width="5.4" height="5.4"/>
<circle class="c" cx="259.8" cy="329.7" r="3.34" fill="#fb8c62"/>
<circle class="c" cx="249.5" cy="335.8" r="3.89" fill="#f3655c"/>
<rect class="s" x="237.9" y="327.9" width="7.6" height="7.6"/>
<rect class="s" x="247.1" y="326.8" width="6.5" height="6.5"/>
<circle class="c" cx="235.8" cy="333.0" r="2.80" fill="#fb8c62"/>
<rect class="s" x="269.1" y="327.6" width="7.6" height="7.6"/>
<rect class="s" x="285.5" y="330.6" width="5.4" height="5.4"/>
<rect class="s" x="229.0" y="337.3" width="5.4" height="5.4"/>
<rect class="s" x="238.1" y="338.5" width="5.4" height="5.4"/>
<circle class="c" cx="247.0" cy="339.2" r="2.80" fill="#feb37b"/>
<circle class="c" cx="252.8" cy="341.7" r="2.80" fill="#fed395"/>
<circle class="c" cx="255.3" cy="338.3" r="3.34" fill="#feb37b"/>
<circle class="c" cx="263.7" cy="338.8" r="3.34" fill="#952c80"/>
<rect class="s" x="273.1" y="335.3" width="5.4" height="5.4"/>
<rect class="s" x="284.6" y="336.5" width="5.4" height="5.4"/>
<rect class="s" x="273.0" y="340.3" width="5.4" height="5.4"/>
<circle class="c" cx="247.8" cy="348.3" r="2.80" fill="#feb37b"/>
<rect class="s" x="270.1" y="345.6" width="5.4" height="5.4"/>
<rect class="s" x="283.5" y="349.8" width="5.4" height="5.4"/>
<circle class="c" cx="345.3" cy="310.3" r="2.80" fill="#fed395"/>
<rect class="s" x="345.3" y="319.5" width="5.4" height="5.4"/>
<circle class="c" cx="362.5" cy="326.2" r="2.80" fill="#fed395"/>
<circle class="c" cx="354.2" cy="329.2" r="3.34" fill="#feb37b"/>
<circle class="c" cx="345.8" cy="331.2" r="2.80" fill="#fb8c62"/>
<circle class="c" cx="339.7" cy="334.7" r="2.80" fill="#f3655c"/>
<circle class="c" cx="353.3" cy="334.2" r="2.80" fill="#feb37b"/>
<circle class="c" cx="358.8" cy="336.2" r="3.34" fill="#b5367a"/>
<circle class="c" cx="316.3" cy="335.8" r="2.80" fill="#f3655c"/>
<circle class="c" cx="350.0" cy="338.0" r="2.80" fill="#f3655c"/>
<circle class="c" cx="367.2" cy="339.7" r="2.80" fill="#e24d66"/>
<circle class="c" cx="326.2" cy="340.8" r="2.80" fill="#952c80"/>
<circle class="c" cx="333.8" cy="342.5" r="2.80" fill="#952c80"/>
<circle class="c" cx="360.8" cy="341.7" r="2.80" fill="#952c80"/>
<circle class="c" cx="353.3" cy="341.3" r="4.43" fill="#fb8c62"/>
<rect class="s" x="341.1" y="342.6" width="5.4" height="5.4"/>
<circle class="c" cx="377.8" cy="345.0" r="3.12" fill="#fed395"/>
<rect class="s" x="383.5" y="344.5" width="5.4" height="5.4"/>
<rect class="s" x="367.0" y="345.1" width="5.4" height="5.4"/>
<circle class="c" cx="358.0" cy="347.5" r="3.89" fill="#f3655c"/>
<circle class="c" cx="351.2" cy="348.3" r="3.34" fill="#fb8c62"/>
<circle class="c" cx="340.8" cy="350.0" r="2.80" fill="#e24d66"/>
<circle class="c" cx="360.0" cy="350.5" r="2.80" fill="#feb37b"/>
<circle class="c" cx="354.2" cy="350.8" r="2.80" fill="#feb37b"/>
<circle class="c" cx="330.3" cy="352.0" r="2.80" fill="#fb8c62"/>
<circle class="c" cx="337.2" cy="352.5" r="2.80" fill="#f3655c"/>
<circle class="c" cx="346.7" cy="353.0" r="2.80" fill="#f3655c"/>
<circle class="c" cx="366.7" cy="353.3" r="2.80" fill="#fed395"/>
<circle class="c" cx="376.7" cy="356.2" r="2.80" fill="#fed395"/>
<circle class="c" cx="323.8" cy="357.2" r="2.80" fill="#e24d66"/>
<circle class="c" cx="339.7" cy="356.7" r="3.34" fill="#e24d66"/>
<circle class="c" cx="346.2" cy="358.7" r="3.99" fill="#952c80"/>
<circle class="c" cx="332.2" cy="359.7" r="2.80" fill="#f3655c"/>
<rect class="s" x="358.5" y="357.8" width="5.4" height="5.4"/>
<circle class="c" cx="305.8" cy="361.2" r="2.80" fill="#952c80"/>
<circle class="c" cx="297.5" cy="363.8" r="2.80" fill="#fb8c62"/>
<circle class="c" cx="319.7" cy="365.3" r="2.80" fill="#fb8c62"/>
<rect class="s" x="304.0" y="367.8" width="5.4" height="5.4"/>
<rect class="s" x="330.3" y="366.5" width="5.4" height="5.4"/>
<circle class="c" cx="342.8" cy="368.7" r="2.80" fill="#f3655c"/>
<circle class="c" cx="350.3" cy="367.8" r="2.80" fill="#e24d66"/>
<circle class="c" cx="431.7" cy="303.7" r="3.89" fill="#e24d66"/>
<circle class="c" cx="422.7" cy="306.7" r="3.89" fill="#fb8c62"/>
<rect class="s" x="385.8" y="277.8" width="5.4" height="5.4"/>
<rect class="s" x="420.6" y="277.0" width="5.4" height="5.4"/>
<rect class="s" x="444.0" y="275.3" width="5.4" height="5.4"/>
<circle class="c" cx="462.2" cy="278.3" r="2.80" fill="#fed395"/>
<rect class="s" x="472.0" y="282.3" width="5.4" height="5.4"/>
<circle class="c" cx="399.7" cy="287.5" r="2.80" fill="#feb37b"/>
<circle class="c" cx="410.5" cy="286.3" r="2.80" fill="#e24d66"/>
<circle class="c" cx="422.5" cy="286.7" r="2.80" fill="#f3655c"/>
<circle class="c" cx="443.8" cy="285.5" r="2.80" fill="#f3655c"/>
<circle class="c" cx="460.5" cy="287.5" r="2.80" fill="#e24d66"/>
<rect class="s" x="401.1" y="288.5" width="5.4" height="5.4"/>
<circle class="c" cx="410.0" cy="291.7" r="2.80" fill="#f3655c"/>
<rect class="s" x="425.3" y="287.3" width="5.4" height="5.4"/>
<circle class="c" cx="420.5" cy="292.5" r="2.80" fill="#952c80"/>
<circle class="c" cx="432.2" cy="288.8" r="2.80" fill="#952c80"/>
<rect class="s" x="435.8" y="289.0" width="5.4" height="5.4"/>
<circle class="c" cx="445.5" cy="291.7" r="3.34" fill="#3b0f70"/>
<rect class="s" x="450.8" y="288.1" width="5.4" height="5.4"/>
<circle class="c" cx="458.0" cy="293.3" r="2.80" fill="#fb8c62"/>
<circle class="c" cx="434.2" cy="293.8" r="2.80" fill="#e24d66"/>
<circle class="c" cx="424.3" cy="295.5" r="2.80" fill="#952c80"/>
<rect class="s" x="396.5" y="295.1" width="5.4" height="5.4"/>
<rect class="s" x="406.6" y="295.1" width="5.4" height="5.4"/>
<circle class="c" cx="387.5" cy="300.8" r="2.80" fill="#f3655c"/>
<rect class="s" x="400.3" y="299.0" width="5.4" height="5.4"/>
<circle class="c" cx="428.0" cy="298.3" r="2.80" fill="#fb8c62"/>
<circle class="c" cx="432.2" cy="297.5" r="2.80" fill="#b5367a"/>
<circle class="c" cx="437.2" cy="299.7" r="3.34" fill="#000004"/>
<circle class="c" cx="442.2" cy="300.8" r="4.98" fill="#e24d66"/>
<circle class="c" cx="449.2" cy="298.8" r="3.12" fill="#6b1d81"/>
<circle class="c" cx="462.5" cy="298.8" r="3.12" fill="#1b1044"/>
<circle class="c" cx="450.5" cy="302.0" r="2.80" fill="#e24d66"/>
<circle class="c" cx="422.2" cy="303.0" r="2.80" fill="#1b1044"/>
<circle class="c" cx="417.2" cy="298.0" r="4.98" fill="#feb37b"/>
<circle class="c" cx="428.0" cy="303.0" r="2.80" fill="#e24d66"/>
<circle class="c" cx="409.3" cy="305.0" r="2.80" fill="#fed395"/>
<circle class="c" cx="440.5" cy="305.5" r="2.80" fill="#f3655c"/>
<circle class="c" cx="465.2" cy="305.8" r="2.80" fill="#952c80"/>
<circle class="c" cx="411.0" cy="310.0" r="2.80" fill="#fb8c62"/>
<rect class="s" x="414.0" y="307.0" width="5.4" height="5.4"/>
<circle class="c" cx="433.8" cy="306.7" r="2.80" fill="#fb8c62"/>
<circle class="c" cx="426.3" cy="308.7" r="4.98" fill="#fb8c62"/>
<circle class="c" cx="432.2" cy="310.0" r="2.80" fill="#fed395"/>
<circle class="c" cx="426.0" cy="311.2" r="3.34" fill="#e24d66"/>
<circle class="c" cx="447.7" cy="308.8" r="2.80" fill="#f3655c"/>
<circle class="c" cx="441.3" cy="312.5" r="2.80" fill="#952c80"/>
<circle class="c" cx="456.3" cy="312.2" r="2.80" fill="#f3655c"/>
<circle class="c" cx="418.0" cy="313.7" r="3.34" fill="#6b1d81"/>
<rect class="s" x="399.1" y="314.3" width="5.4" height="5.4"/>
<circle class="c" cx="417.2" cy="315.8" r="2.80" fill="#fb8c62"/>
<circle class="c" cx="424.7" cy="317.0" r="3.34" fill="#fb8c62"/>
<circle class="c" cx="434.3" cy="313.8" r="2.80" fill="#f3655c"/>
<circle class="c" cx="434.3" cy="318.0" r="2.80" fill="#e24d66"/>
<circle class="c" cx="457.7" cy="316.3" r="2.80" fill="#6b1d81"/>
<circle class="c" cx="419.7" cy="321.7" r="2.80" fill="#952c80"/>
<rect class="s" x="192.6" y="346.1" width="5.4" height="5.4"/>
<circle class="c" cx="206.2" cy="352.0" r="2.80" fill="#fb8c62"/>
<rect class="s" x="212.8" y="356.0" width="5.4" height="5.4"/>
<rect class="s" x="227.8" y="361.8" width="5.4" height="5.4"/>
<circle class="c" cx="253.7" cy="368.8" r="2.80" fill="#e24d66"/>
<circle class="c" cx="407.1" cy="351.5" r="2.80" fill="#e24d66"/>
<circle class="c" cx="413.5" cy="348.8" r="2.80" fill="#952c80"/>
</g>
<g id="legend">
<rect x="576.5" y="113.2" width="41.6" height="226.2" fill="url(#g)"/>
<rect x="576.5" y="113.2" width="41.6" height="253.3" fill="none" stroke="#000" stroke-width="1"/>
<path d="M571 113.2H581M571 176H581M571 226.5H581M571 289.2H581M571 339.4H581" stroke="#000" stroke-width="1" fill="none"/>
<text x="597.5" y="103.6" text-anchor="middle" font-size="16.2">Time of Adoption</text>
<text x="560.8" y="118" text-anchor="end" font-size="15.7">1964</text>
<text x="560.8" y="180.4" text-anchor="end" font-size="15.7">1959</text>
<text x="560.8" y="231.1" text-anchor="end" font-size="15.7">1955</text>
<text x="560.8" y="294" text-anchor="end" font-size="15.7">1950</text>
<text x="560.8" y="344.2" text-anchor="end" font-size="15.7">1946</text>
<text x="561.3" y="356.8" text-anchor="end" font-size="16">Non-adopters</text>
</g>

</svg></body></html>
